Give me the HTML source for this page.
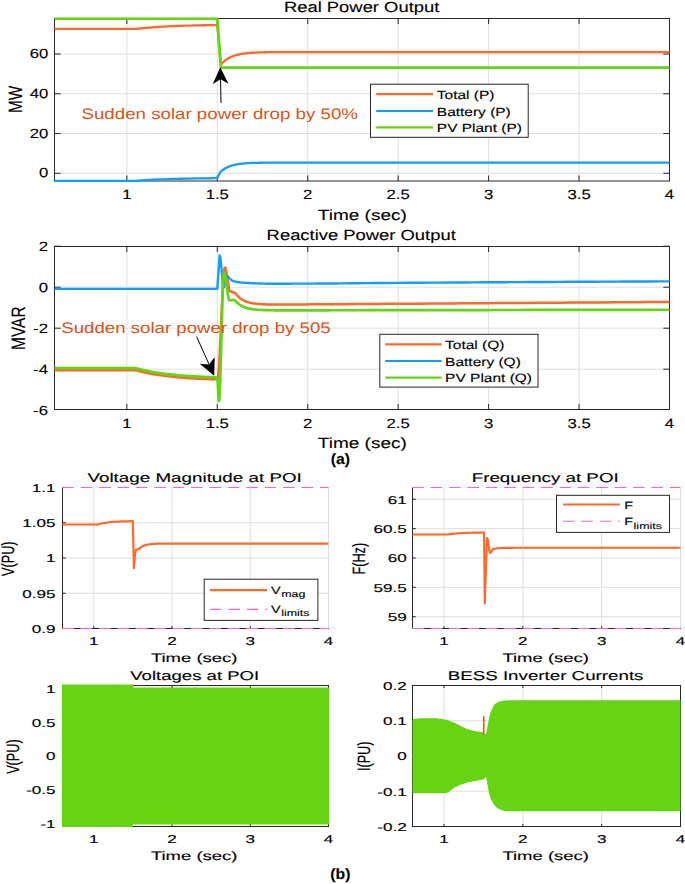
<!DOCTYPE html>
<html><head><meta charset="utf-8"><title>Power plots</title>
<style>html,body{margin:0;padding:0;background:#fff}svg{display:block}</style></head>
<body><svg width="685" height="884" viewBox="0 0 685 884" font-family="'Liberation Sans', sans-serif" text-rendering="geometricPrecision"><defs>
<clipPath id="c1"><rect x="54.0" y="17.3" width="616.0" height="164.9"/></clipPath>
<clipPath id="c2"><rect x="54.0" y="245.3" width="616.0" height="165.4"/></clipPath>
</defs>
<rect x="54.5" y="18.5" width="615.0" height="162.5" fill="#fff"/>
<path d="M126.85 18.5V181.0M217.29 18.5V181.0M307.74 18.5V181.0M398.18 18.5V181.0M488.62 18.5V181.0M579.06 18.5V181.0M54.5 173.30H669.5M54.5 133.54H669.5M54.5 93.78H669.5M54.5 54.02H669.5" stroke="#dfdfdf" stroke-width="1" fill="none"/>
<path d="M126.85 181.0v-5.5M126.85 18.5v5.5M217.29 181.0v-5.5M217.29 18.5v5.5M307.74 181.0v-5.5M307.74 18.5v5.5M398.18 181.0v-5.5M398.18 18.5v5.5M488.62 181.0v-5.5M488.62 18.5v5.5M579.06 181.0v-5.5M579.06 18.5v5.5M669.50 181.0v-5.5M669.50 18.5v5.5M54.5 173.30h6.2M669.5 173.30h-6.2M54.5 133.54h6.2M669.5 133.54h-6.2M54.5 93.78h6.2M669.5 93.78h-6.2M54.5 54.02h6.2M669.5 54.02h-6.2" stroke="#262626" stroke-width="1" fill="none"/>
<rect x="54.5" y="18.5" width="615.0" height="162.5" fill="none" stroke="#262626" stroke-width="1"/>
<polyline points="54.50,28.97 59.02,28.97 63.54,28.97 68.07,28.97 72.59,28.97 77.11,28.97 81.63,28.97 86.15,28.97 90.68,28.97 95.20,28.97 99.72,28.97 104.24,28.97 108.76,28.97 113.29,28.97 117.81,28.97 122.33,28.97 126.85,28.97 131.38,28.97 135.90,28.97 140.42,28.46 144.94,28.00 149.46,27.60 153.99,27.25 158.51,26.94 163.03,26.66 167.55,26.42 172.07,26.21 176.60,26.02 181.12,25.85 185.64,25.70 190.16,25.57 194.68,25.46 199.21,25.36 203.73,25.27 208.25,25.19 210.06,25.16 211.87,25.13 213.68,25.11 215.49,25.08 215.58,25.08 215.67,25.08 215.76,25.08 215.85,25.08 215.94,25.08 216.03,25.07 216.12,25.07 216.21,25.07 216.30,25.07 216.39,25.07 216.48,25.07 216.57,25.07 216.66,25.07 216.75,25.07 216.84,25.06 216.93,25.06 217.02,25.06 217.11,25.06 217.20,25.06 217.29,25.06 217.38,26.05 217.47,27.03 217.57,28.02 217.66,29.01 217.75,30.00 217.84,30.98 217.93,31.97 218.02,32.96 218.11,33.95 218.20,34.93 218.29,35.92 218.38,36.91 218.47,37.90 218.56,38.88 218.65,39.87 218.74,40.86 218.83,41.85 218.92,42.83 219.01,43.82 219.10,44.81 219.19,45.79 219.28,46.78 219.37,47.77 219.46,48.76 219.56,49.74 219.65,50.73 219.74,51.72 219.83,52.71 219.92,53.69 220.01,54.68 220.10,55.67 220.19,56.66 220.28,57.64 220.37,58.63 220.46,59.62 220.55,60.61 220.64,61.59 220.73,62.58 220.82,63.57 220.91,64.56 221.00,64.45 221.09,64.35 221.18,64.25 221.27,64.15 221.36,64.05 221.45,63.95 221.54,63.85 221.64,63.75 221.73,63.65 221.82,63.56 221.91,63.46 222.00,63.36 222.09,63.27 222.18,63.18 222.27,63.08 222.36,62.99 222.45,62.90 222.54,62.81 222.63,62.72 222.72,62.63 222.81,62.55 222.90,62.46 222.99,62.37 223.08,62.29 223.17,62.20 223.26,62.12 223.35,62.03 223.44,61.95 223.53,61.87 223.62,61.79 223.72,61.71 223.81,61.62 223.90,61.55 223.99,61.47 224.08,61.39 224.17,61.31 224.26,61.23 224.35,61.16 224.44,61.08 224.53,61.01 224.62,60.93 224.71,60.86 224.80,60.78 224.89,60.71 224.98,60.64 225.07,60.57 225.16,60.50 225.25,60.43 225.34,60.36 225.43,60.29 225.52,60.22 225.61,60.15 225.71,60.08 225.80,60.02 225.89,59.95 225.98,59.89 226.07,59.82 226.16,59.76 226.25,59.69 226.34,59.63 226.43,59.57 226.52,59.50 226.61,59.44 226.70,59.38 226.79,59.32 226.88,59.26 226.97,59.20 227.06,59.14 227.15,59.08 227.24,59.02 227.33,58.96 227.42,58.91 227.51,58.85 227.60,58.79 227.69,58.74 227.79,58.68 227.88,58.63 227.97,58.57 228.06,58.52 228.15,58.46 228.24,58.41 228.33,58.36 228.42,58.30 228.51,58.25 228.60,58.20 228.69,58.15 228.78,58.10 228.87,58.05 228.96,58.00 229.05,57.95 229.14,57.90 229.23,57.85 229.32,57.80 229.41,57.75 229.50,57.71 229.59,57.66 229.68,57.61 229.77,57.57 229.87,57.52 229.96,57.48 230.05,57.43 230.14,57.39 230.23,57.34 230.32,57.30 230.41,57.25 230.50,57.21 230.59,57.17 230.68,57.12 230.77,57.08 230.86,57.04 230.95,57.00 231.04,56.96 231.13,56.92 231.22,56.88 231.31,56.84 231.40,56.80 231.49,56.76 231.58,56.72 231.67,56.68 231.76,56.64 231.86,56.60 231.95,56.56 232.04,56.53 232.13,56.49 232.22,56.45 232.31,56.41 232.40,56.38 232.49,56.34 232.58,56.31 232.67,56.27 232.76,56.24 232.85,56.20 232.94,56.17 233.03,56.13 233.12,56.10 233.21,56.06 233.30,56.03 233.39,56.00 233.48,55.96 233.57,55.93 233.66,55.90 233.75,55.87 233.84,55.84 233.94,55.80 234.03,55.77 234.12,55.74 234.21,55.71 234.30,55.68 234.39,55.65 234.48,55.62 234.57,55.59 234.66,55.56 234.75,55.53 234.84,55.50 234.93,55.47 235.02,55.45 235.11,55.42 235.20,55.39 235.29,55.36 235.38,55.33 235.47,55.31 235.56,55.28 235.65,55.25 235.74,55.23 235.83,55.20 235.93,55.17 236.02,55.15 236.11,55.12 236.20,55.09 236.29,55.07 236.38,55.04 236.47,55.02 236.56,54.99 236.65,54.97 236.74,54.95 236.83,54.92 236.92,54.90 237.01,54.87 237.10,54.85 237.19,54.83 237.28,54.80 237.37,54.78 237.46,54.76 237.55,54.73 237.64,54.71 237.73,54.69 237.82,54.67 237.91,54.65 238.01,54.62 238.10,54.60 238.19,54.58 238.28,54.56 238.37,54.54 238.46,54.52 238.55,54.50 238.64,54.48 238.73,54.46 238.82,54.44 238.91,54.42 239.00,54.40 239.09,54.38 239.18,54.36 239.27,54.34 239.36,54.32 239.45,54.30 239.54,54.28 239.63,54.26 239.72,54.24 239.81,54.23 239.90,54.21 239.99,54.19 240.09,54.17 240.18,54.15 240.27,54.14 240.36,54.12 240.45,54.10 240.54,54.09 240.63,54.07 240.72,54.05 240.81,54.03 240.90,54.02 240.99,54.00 241.08,53.98 241.17,53.97 241.26,53.95 241.35,53.94 241.44,53.92 241.53,53.91 241.62,53.89 241.71,53.87 241.80,53.86 241.89,53.84 241.98,53.83 242.07,53.81 242.17,53.80 242.26,53.78 242.35,53.77 242.44,53.76 242.53,53.74 242.62,53.73 242.71,53.71 242.80,53.70 242.89,53.69 242.98,53.67 243.07,53.66 243.16,53.64 243.25,53.63 243.34,53.62 243.43,53.60 243.52,53.59 243.61,53.58 243.70,53.57 243.79,53.55 243.88,53.54 243.97,53.53 244.06,53.52 244.16,53.50 244.25,53.49 244.34,53.48 244.43,53.47 244.52,53.45 244.61,53.44 244.70,53.43 244.79,53.42 244.88,53.41 244.97,53.40 245.06,53.39 245.15,53.37 245.24,53.36 245.33,53.35 245.42,53.34 245.51,53.33 245.60,53.32 245.69,53.31 245.78,53.30 245.87,53.29 245.96,53.28 246.05,53.27 246.14,53.26 246.24,53.25 247.32,53.13 248.41,53.03 249.49,52.93 250.58,52.85 251.66,52.77 252.75,52.70 253.83,52.64 254.92,52.58 256.00,52.53 257.09,52.48 258.17,52.44 259.26,52.40 260.34,52.36 261.43,52.33 262.51,52.30 263.60,52.28 264.69,52.25 265.77,52.23 266.86,52.21 267.94,52.20 269.03,52.18 270.11,52.17 271.20,52.15 272.28,52.14 273.37,52.13 274.45,52.12 275.54,52.11 276.62,52.11 277.71,52.10 278.79,52.09 279.88,52.09 280.96,52.08 282.05,52.08 283.14,52.07 284.22,52.07 285.31,52.07 286.39,52.06 287.48,52.06 288.56,52.06 289.65,52.05 290.73,52.05 291.82,52.05 292.90,52.05 293.99,52.05 295.07,52.05 296.16,52.04 297.24,52.04 298.33,52.04 299.41,52.04 300.50,52.04 301.59,52.04 302.67,52.04 303.76,52.04 304.84,52.04 305.93,52.04 307.01,52.04 308.10,52.04 309.18,52.04 310.27,52.04 311.35,52.04 312.44,52.03 313.52,52.03 314.61,52.03 315.69,52.03 316.78,52.03 317.86,52.03 318.95,52.03 320.04,52.03 321.12,52.03 322.21,52.03 323.29,52.03 324.38,52.03 325.46,52.03 326.55,52.03 327.63,52.03 328.72,52.03 329.80,52.03 330.89,52.03 331.97,52.03 333.06,52.03 334.14,52.03 335.23,52.03 336.31,52.03 337.40,52.03 338.49,52.03 339.57,52.03 340.66,52.03 341.74,52.03 342.83,52.03 343.91,52.03 354.76,52.03 365.62,52.03 376.47,52.03 387.32,52.03 398.18,52.03 409.03,52.03 419.88,52.03 430.74,52.03 441.59,52.03 452.44,52.03 463.29,52.03 474.15,52.03 485.00,52.03 495.85,52.03 506.71,52.03 517.56,52.03 528.41,52.03 539.26,52.03 550.12,52.03 560.97,52.03 571.82,52.03 582.68,52.03 593.53,52.03 604.38,52.03 615.24,52.03 626.09,52.03 636.94,52.03 647.79,52.03 658.65,52.03 669.50,52.03" fill="none" stroke="#ff6929" stroke-width="2.3" stroke-linejoin="round" clip-path="url(#c1)"/>
<polyline points="54.50,180.85 59.02,180.85 63.54,180.85 68.07,180.85 72.59,180.85 77.11,180.85 81.63,180.85 86.15,180.85 90.68,180.85 95.20,180.85 99.72,180.85 104.24,180.85 108.76,180.85 113.29,180.85 117.81,180.85 122.33,180.85 126.85,180.85 131.38,180.85 135.90,180.85 140.42,180.50 144.94,180.19 149.46,179.92 153.99,179.68 158.51,179.47 163.03,179.28 167.55,179.12 172.07,178.97 176.60,178.84 181.12,178.73 185.64,178.63 190.16,178.54 194.68,178.46 199.21,178.39 203.73,178.33 208.25,178.28 210.06,178.26 211.87,178.24 213.68,178.22 215.49,178.20 215.58,178.20 215.67,178.20 215.76,178.20 215.85,178.20 215.94,178.20 216.03,178.20 216.12,178.20 216.21,178.20 216.30,178.20 216.39,178.19 216.48,178.19 216.57,178.19 216.66,178.19 216.75,178.19 216.84,178.19 216.93,178.19 217.02,178.19 217.11,178.19 217.20,178.19 217.29,178.19 217.38,177.99 217.47,177.79 217.57,177.59 217.66,177.39 217.75,177.19 217.84,176.99 217.93,176.79 218.02,176.59 218.11,176.39 218.20,176.19 218.29,175.99 218.38,175.79 218.47,175.59 218.56,175.40 218.65,175.20 218.74,175.00 218.83,174.80 218.92,174.60 219.01,174.40 219.10,174.20 219.19,174.00 219.28,173.80 219.37,173.60 219.46,173.40 219.56,173.20 219.65,173.00 219.74,172.80 219.83,172.60 219.92,172.51 220.01,172.42 220.10,172.33 220.19,172.25 220.28,172.16 220.37,172.07 220.46,171.99 220.55,171.90 220.64,171.82 220.73,171.73 220.82,171.65 220.91,171.57 221.00,171.49 221.09,171.40 221.18,171.32 221.27,171.25 221.36,171.17 221.45,171.09 221.54,171.01 221.64,170.94 221.73,170.86 221.82,170.78 221.91,170.71 222.00,170.64 222.09,170.56 222.18,170.49 222.27,170.42 222.36,170.35 222.45,170.28 222.54,170.21 222.63,170.14 222.72,170.07 222.81,170.00 222.90,169.93 222.99,169.87 223.08,169.80 223.17,169.74 223.26,169.67 223.35,169.61 223.44,169.54 223.53,169.48 223.62,169.42 223.72,169.36 223.81,169.29 223.90,169.23 223.99,169.17 224.08,169.11 224.17,169.05 224.26,169.00 224.35,168.94 224.44,168.88 224.53,168.82 224.62,168.77 224.71,168.71 224.80,168.65 224.89,168.60 224.98,168.54 225.07,168.49 225.16,168.44 225.25,168.38 225.34,168.33 225.43,168.28 225.52,168.23 225.61,168.18 225.71,168.12 225.80,168.07 225.89,168.02 225.98,167.98 226.07,167.93 226.16,167.88 226.25,167.83 226.34,167.78 226.43,167.73 226.52,167.69 226.61,167.64 226.70,167.60 226.79,167.55 226.88,167.51 226.97,167.46 227.06,167.42 227.15,167.37 227.24,167.33 227.33,167.29 227.42,167.24 227.51,167.20 227.60,167.16 227.69,167.12 227.79,167.08 227.88,167.03 227.97,166.99 228.06,166.95 228.15,166.91 228.24,166.88 228.33,166.84 228.42,166.80 228.51,166.76 228.60,166.72 228.69,166.68 228.78,166.65 228.87,166.61 228.96,166.57 229.05,166.54 229.14,166.50 229.23,166.47 229.32,166.43 229.41,166.39 229.50,166.36 229.59,166.33 229.68,166.29 229.77,166.26 229.87,166.22 229.96,166.19 230.05,166.16 230.14,166.13 230.23,166.09 230.32,166.06 230.41,166.03 230.50,166.00 230.59,165.97 230.68,165.94 230.77,165.91 230.86,165.88 230.95,165.85 231.04,165.82 231.13,165.79 231.22,165.76 231.31,165.73 231.40,165.70 231.49,165.67 231.58,165.64 231.67,165.62 231.76,165.59 231.86,165.56 231.95,165.53 232.04,165.51 232.13,165.48 232.22,165.45 232.31,165.43 232.40,165.40 232.49,165.38 232.58,165.35 232.67,165.33 232.76,165.30 232.85,165.28 232.94,165.25 233.03,165.23 233.12,165.20 233.21,165.18 233.30,165.16 233.39,165.13 233.48,165.11 233.57,165.09 233.66,165.06 233.75,165.04 233.84,165.02 233.94,165.00 234.03,164.97 234.12,164.95 234.21,164.93 234.30,164.91 234.39,164.89 234.48,164.87 234.57,164.85 234.66,164.83 234.75,164.80 234.84,164.78 234.93,164.76 235.02,164.74 235.11,164.72 235.20,164.71 235.29,164.69 235.38,164.67 235.47,164.65 235.56,164.63 235.65,164.61 235.74,164.59 235.83,164.57 235.93,164.56 236.02,164.54 236.11,164.52 236.20,164.50 236.29,164.48 236.38,164.47 236.47,164.45 236.56,164.43 236.65,164.42 236.74,164.40 236.83,164.38 236.92,164.37 237.01,164.35 237.10,164.33 237.19,164.32 237.28,164.30 237.37,164.29 237.46,164.27 237.55,164.25 237.64,164.24 237.73,164.22 237.82,164.21 237.91,164.19 238.01,164.18 238.10,164.17 238.19,164.15 238.28,164.14 238.37,164.12 238.46,164.11 238.55,164.09 238.64,164.08 238.73,164.07 238.82,164.05 238.91,164.04 239.00,164.03 239.09,164.01 239.18,164.00 239.27,163.99 239.36,163.97 239.45,163.96 239.54,163.95 239.63,163.94 239.72,163.92 239.81,163.91 239.90,163.90 239.99,163.89 240.09,163.87 240.18,163.86 240.27,163.85 240.36,163.84 240.45,163.83 240.54,163.82 240.63,163.81 240.72,163.79 240.81,163.78 240.90,163.77 240.99,163.76 241.08,163.75 241.17,163.74 241.26,163.73 241.35,163.72 241.44,163.71 241.53,163.70 241.62,163.69 241.71,163.68 241.80,163.67 241.89,163.66 241.98,163.65 242.07,163.64 242.17,163.63 242.26,163.62 242.35,163.61 242.44,163.60 242.53,163.59 242.62,163.58 242.71,163.57 242.80,163.56 242.89,163.55 242.98,163.54 243.07,163.54 243.16,163.53 243.25,163.52 243.34,163.51 243.43,163.50 243.52,163.49 243.61,163.48 243.70,163.48 243.79,163.47 243.88,163.46 243.97,163.45 244.06,163.44 244.16,163.44 244.25,163.43 244.34,163.42 244.43,163.41 244.52,163.40 244.61,163.40 244.70,163.39 244.79,163.38 244.88,163.37 244.97,163.37 245.06,163.36 245.15,163.35 245.24,163.35 245.33,163.34 245.42,163.33 245.51,163.32 245.60,163.32 245.69,163.31 245.78,163.30 245.87,163.30 245.96,163.29 246.05,163.28 246.14,163.28 246.24,163.27 247.32,163.20 248.41,163.13 249.49,163.07 250.58,163.02 251.66,162.97 252.75,162.93 253.83,162.89 254.92,162.86 256.00,162.83 257.09,162.80 258.17,162.78 259.26,162.76 260.34,162.74 261.43,162.72 262.51,162.70 263.60,162.69 264.69,162.68 265.77,162.66 266.86,162.65 267.94,162.64 269.03,162.64 270.11,162.63 271.20,162.62 272.28,162.62 273.37,162.61 274.45,162.61 275.54,162.60 276.62,162.60 277.71,162.59 278.79,162.59 279.88,162.59 280.96,162.59 282.05,162.58 283.14,162.58 284.22,162.58 285.31,162.58 286.39,162.58 287.48,162.58 288.56,162.57 289.65,162.57 290.73,162.57 291.82,162.57 292.90,162.57 293.99,162.57 295.07,162.57 296.16,162.57 297.24,162.57 298.33,162.57 299.41,162.57 300.50,162.57 301.59,162.57 302.67,162.57 303.76,162.57 304.84,162.57 305.93,162.57 307.01,162.57 308.10,162.57 309.18,162.57 310.27,162.57 311.35,162.57 312.44,162.57 313.52,162.57 314.61,162.57 315.69,162.57 316.78,162.57 317.86,162.57 318.95,162.57 320.04,162.57 321.12,162.57 322.21,162.57 323.29,162.57 324.38,162.57 325.46,162.57 326.55,162.57 327.63,162.56 328.72,162.56 329.80,162.56 330.89,162.56 331.97,162.56 333.06,162.56 334.14,162.56 335.23,162.56 336.31,162.56 337.40,162.56 338.49,162.56 339.57,162.56 340.66,162.56 341.74,162.56 342.83,162.56 343.91,162.56 354.76,162.56 365.62,162.56 376.47,162.56 387.32,162.56 398.18,162.56 409.03,162.56 419.88,162.56 430.74,162.56 441.59,162.56 452.44,162.56 463.29,162.56 474.15,162.56 485.00,162.56 495.85,162.56 506.71,162.56 517.56,162.56 528.41,162.56 539.26,162.56 550.12,162.56 560.97,162.56 571.82,162.56 582.68,162.56 593.53,162.56 604.38,162.56 615.24,162.56 626.09,162.56 636.94,162.56 647.79,162.56 658.65,162.56 669.50,162.56" fill="none" stroke="#129eff" stroke-width="2.3" stroke-linejoin="round" clip-path="url(#c1)"/>
<polyline points="54.50,18.63 59.02,18.63 63.54,18.63 68.07,18.63 72.59,18.63 77.11,18.63 81.63,18.63 86.15,18.63 90.68,18.63 95.20,18.63 99.72,18.63 104.24,18.63 108.76,18.63 113.29,18.63 117.81,18.63 122.33,18.63 126.85,18.63 131.38,18.63 135.90,18.63 140.42,18.63 144.94,18.63 149.46,18.63 153.99,18.63 158.51,18.63 163.03,18.63 167.55,18.63 172.07,18.63 176.60,18.63 181.12,18.63 185.64,18.63 190.16,18.63 194.68,18.63 199.21,18.63 203.73,18.63 208.25,18.63 210.06,18.63 211.87,18.63 213.68,18.63 215.49,18.63 215.58,18.63 215.67,18.63 215.76,18.63 215.85,18.63 215.94,18.63 216.03,18.63 216.12,18.63 216.21,18.63 216.30,18.63 216.39,18.63 216.48,18.63 216.57,18.63 216.66,18.63 216.75,18.63 216.84,18.63 216.93,18.63 217.02,18.63 217.11,18.63 217.20,18.63 217.29,18.63 217.38,19.86 217.47,21.08 217.57,22.30 217.66,23.52 217.75,24.75 217.84,25.97 217.93,27.19 218.02,28.41 218.11,29.64 218.20,30.86 218.29,32.08 218.38,33.31 218.47,34.53 218.56,35.75 218.65,36.97 218.74,38.20 218.83,39.42 218.92,40.64 219.01,41.86 219.10,43.09 219.19,44.31 219.28,45.53 219.37,46.75 219.46,47.98 219.56,49.20 219.65,50.42 219.74,51.64 219.83,52.87 219.92,54.09 220.01,55.31 220.10,56.53 220.19,57.76 220.28,58.98 220.37,60.20 220.46,61.43 220.55,62.65 220.64,63.87 220.73,65.09 220.82,66.32 220.91,67.54 221.00,67.54 221.09,67.54 221.18,67.54 221.27,67.54 221.36,67.54 221.45,67.54 221.54,67.54 221.64,67.54 221.73,67.54 221.82,67.54 221.91,67.54 222.00,67.54 222.09,67.54 222.18,67.54 222.27,67.54 222.36,67.54 222.45,67.54 222.54,67.54 222.63,67.54 222.72,67.54 222.81,67.54 222.90,67.54 222.99,67.54 223.08,67.54 223.17,67.54 223.26,67.54 223.35,67.54 223.44,67.54 223.53,67.54 223.62,67.54 223.72,67.54 223.81,67.54 223.90,67.54 223.99,67.54 224.08,67.54 224.17,67.54 224.26,67.54 224.35,67.54 224.44,67.54 224.53,67.54 224.62,67.54 224.71,67.54 224.80,67.54 224.89,67.54 224.98,67.54 225.07,67.54 225.16,67.54 225.25,67.54 225.34,67.54 225.43,67.54 225.52,67.54 225.61,67.54 225.71,67.54 225.80,67.54 225.89,67.54 225.98,67.54 226.07,67.54 226.16,67.54 226.25,67.54 226.34,67.54 226.43,67.54 226.52,67.54 226.61,67.54 226.70,67.54 226.79,67.54 226.88,67.54 226.97,67.54 227.06,67.54 227.15,67.54 227.24,67.54 227.33,67.54 227.42,67.54 227.51,67.54 227.60,67.54 227.69,67.54 227.79,67.54 227.88,67.54 227.97,67.54 228.06,67.54 228.15,67.54 228.24,67.54 228.33,67.54 228.42,67.54 228.51,67.54 228.60,67.54 228.69,67.54 228.78,67.54 228.87,67.54 228.96,67.54 229.05,67.54 229.14,67.54 229.23,67.54 229.32,67.54 229.41,67.54 229.50,67.54 229.59,67.54 229.68,67.54 229.77,67.54 229.87,67.54 229.96,67.54 230.05,67.54 230.14,67.54 230.23,67.54 230.32,67.54 230.41,67.54 230.50,67.54 230.59,67.54 230.68,67.54 230.77,67.54 230.86,67.54 230.95,67.54 231.04,67.54 231.13,67.54 231.22,67.54 231.31,67.54 231.40,67.54 231.49,67.54 231.58,67.54 231.67,67.54 231.76,67.54 231.86,67.54 231.95,67.54 232.04,67.54 232.13,67.54 232.22,67.54 232.31,67.54 232.40,67.54 232.49,67.54 232.58,67.54 232.67,67.54 232.76,67.54 232.85,67.54 232.94,67.54 233.03,67.54 233.12,67.54 233.21,67.54 233.30,67.54 233.39,67.54 233.48,67.54 233.57,67.54 233.66,67.54 233.75,67.54 233.84,67.54 233.94,67.54 234.03,67.54 234.12,67.54 234.21,67.54 234.30,67.54 234.39,67.54 234.48,67.54 234.57,67.54 234.66,67.54 234.75,67.54 234.84,67.54 234.93,67.54 235.02,67.54 235.11,67.54 235.20,67.54 235.29,67.54 235.38,67.54 235.47,67.54 235.56,67.54 235.65,67.54 235.74,67.54 235.83,67.54 235.93,67.54 236.02,67.54 236.11,67.54 236.20,67.54 236.29,67.54 236.38,67.54 236.47,67.54 236.56,67.54 236.65,67.54 236.74,67.54 236.83,67.54 236.92,67.54 237.01,67.54 237.10,67.54 237.19,67.54 237.28,67.54 237.37,67.54 237.46,67.54 237.55,67.54 237.64,67.54 237.73,67.54 237.82,67.54 237.91,67.54 238.01,67.54 238.10,67.54 238.19,67.54 238.28,67.54 238.37,67.54 238.46,67.54 238.55,67.54 238.64,67.54 238.73,67.54 238.82,67.54 238.91,67.54 239.00,67.54 239.09,67.54 239.18,67.54 239.27,67.54 239.36,67.54 239.45,67.54 239.54,67.54 239.63,67.54 239.72,67.54 239.81,67.54 239.90,67.54 239.99,67.54 240.09,67.54 240.18,67.54 240.27,67.54 240.36,67.54 240.45,67.54 240.54,67.54 240.63,67.54 240.72,67.54 240.81,67.54 240.90,67.54 240.99,67.54 241.08,67.54 241.17,67.54 241.26,67.54 241.35,67.54 241.44,67.54 241.53,67.54 241.62,67.54 241.71,67.54 241.80,67.54 241.89,67.54 241.98,67.54 242.07,67.54 242.17,67.54 242.26,67.54 242.35,67.54 242.44,67.54 242.53,67.54 242.62,67.54 242.71,67.54 242.80,67.54 242.89,67.54 242.98,67.54 243.07,67.54 243.16,67.54 243.25,67.54 243.34,67.54 243.43,67.54 243.52,67.54 243.61,67.54 243.70,67.54 243.79,67.54 243.88,67.54 243.97,67.54 244.06,67.54 244.16,67.54 244.25,67.54 244.34,67.54 244.43,67.54 244.52,67.54 244.61,67.54 244.70,67.54 244.79,67.54 244.88,67.54 244.97,67.54 245.06,67.54 245.15,67.54 245.24,67.54 245.33,67.54 245.42,67.54 245.51,67.54 245.60,67.54 245.69,67.54 245.78,67.54 245.87,67.54 245.96,67.54 246.05,67.54 246.14,67.54 246.24,67.54 247.32,67.54 248.41,67.54 249.49,67.54 250.58,67.54 251.66,67.54 252.75,67.54 253.83,67.54 254.92,67.54 256.00,67.54 257.09,67.54 258.17,67.54 259.26,67.54 260.34,67.54 261.43,67.54 262.51,67.54 263.60,67.54 264.69,67.54 265.77,67.54 266.86,67.54 267.94,67.54 269.03,67.54 270.11,67.54 271.20,67.54 272.28,67.54 273.37,67.54 274.45,67.54 275.54,67.54 276.62,67.54 277.71,67.54 278.79,67.54 279.88,67.54 280.96,67.54 282.05,67.54 283.14,67.54 284.22,67.54 285.31,67.54 286.39,67.54 287.48,67.54 288.56,67.54 289.65,67.54 290.73,67.54 291.82,67.54 292.90,67.54 293.99,67.54 295.07,67.54 296.16,67.54 297.24,67.54 298.33,67.54 299.41,67.54 300.50,67.54 301.59,67.54 302.67,67.54 303.76,67.54 304.84,67.54 305.93,67.54 307.01,67.54 308.10,67.54 309.18,67.54 310.27,67.54 311.35,67.54 312.44,67.54 313.52,67.54 314.61,67.54 315.69,67.54 316.78,67.54 317.86,67.54 318.95,67.54 320.04,67.54 321.12,67.54 322.21,67.54 323.29,67.54 324.38,67.54 325.46,67.54 326.55,67.54 327.63,67.54 328.72,67.54 329.80,67.54 330.89,67.54 331.97,67.54 333.06,67.54 334.14,67.54 335.23,67.54 336.31,67.54 337.40,67.54 338.49,67.54 339.57,67.54 340.66,67.54 341.74,67.54 342.83,67.54 343.91,67.54 354.76,67.54 365.62,67.54 376.47,67.54 387.32,67.54 398.18,67.54 409.03,67.54 419.88,67.54 430.74,67.54 441.59,67.54 452.44,67.54 463.29,67.54 474.15,67.54 485.00,67.54 495.85,67.54 506.71,67.54 517.56,67.54 528.41,67.54 539.26,67.54 550.12,67.54 560.97,67.54 571.82,67.54 582.68,67.54 593.53,67.54 604.38,67.54 615.24,67.54 626.09,67.54 636.94,67.54 647.79,67.54 658.65,67.54 669.50,67.54" fill="none" stroke="#64d413" stroke-width="2.8" stroke-linejoin="round" clip-path="url(#c1)"/>
<rect x="54.5" y="246.5" width="615.0" height="163.0" fill="#fff"/>
<path d="M126.85 246.5V409.5M217.29 246.5V409.5M307.74 246.5V409.5M398.18 246.5V409.5M488.62 246.5V409.5M579.06 246.5V409.5M54.5 369.20H669.5M54.5 328.20H669.5M54.5 287.20H669.5" stroke="#dfdfdf" stroke-width="1" fill="none"/>
<path d="M126.85 409.5v-5.5M126.85 246.5v5.5M217.29 409.5v-5.5M217.29 246.5v5.5M307.74 409.5v-5.5M307.74 246.5v5.5M398.18 409.5v-5.5M398.18 246.5v5.5M488.62 409.5v-5.5M488.62 246.5v5.5M579.06 409.5v-5.5M579.06 246.5v5.5M669.50 409.5v-5.5M669.50 246.5v5.5M54.5 369.20h6.2M669.5 369.20h-6.2M54.5 328.20h6.2M669.5 328.20h-6.2M54.5 287.20h6.2M669.5 287.20h-6.2M54.5 246.20h6.2M669.5 246.20h-6.2" stroke="#262626" stroke-width="1" fill="none"/>
<rect x="54.5" y="246.5" width="615.0" height="163.0" fill="none" stroke="#262626" stroke-width="1"/>
<polyline points="54.50,370.22 59.02,370.22 63.54,370.22 68.07,370.22 72.59,370.22 77.11,370.22 81.63,370.22 86.15,370.22 90.68,370.22 95.20,370.22 99.72,370.22 104.24,370.22 108.76,370.22 113.29,370.22 117.81,370.22 122.33,370.22 126.85,370.22 131.38,370.22 135.90,370.22 140.42,371.43 144.94,372.49 149.46,373.43 153.99,374.26 158.51,374.99 163.03,375.63 167.55,376.20 172.07,376.70 176.60,377.15 181.12,377.54 185.64,377.88 190.16,378.19 194.68,378.46 199.21,378.69 203.73,378.90 208.25,379.09 210.06,379.16 211.87,379.22 213.68,379.28 215.49,379.34 215.58,379.34 215.67,379.34 215.76,379.35 215.85,379.35 215.94,379.35 216.03,379.36 216.12,379.36 216.21,379.36 216.30,379.36 216.39,379.37 216.48,379.37 216.57,379.37 216.66,379.38 216.75,379.38 216.84,379.38 216.93,379.38 217.02,379.39 217.11,379.39 217.20,379.39 217.29,379.45 217.38,379.41 217.47,379.29 217.57,379.10 217.66,378.82 217.75,378.47 217.84,378.05 217.93,377.54 218.02,376.96 218.11,376.31 218.20,375.58 218.29,374.78 218.38,373.91 218.47,372.96 218.56,371.95 218.65,370.87 218.74,369.73 218.83,368.51 218.92,367.24 219.01,365.90 219.10,364.51 219.19,363.06 219.28,361.55 219.37,359.99 219.46,358.38 219.56,356.72 219.65,355.01 219.74,353.26 219.83,351.47 219.92,349.64 220.01,347.77 220.10,345.86 220.19,343.93 220.28,341.97 220.37,339.98 220.46,337.97 220.55,335.94 220.64,333.89 220.73,331.83 220.82,329.75 220.91,327.67 221.00,325.58 221.09,323.49 221.18,321.39 221.27,319.30 221.36,317.22 221.45,315.14 221.54,313.08 221.64,311.03 221.73,309.00 221.82,306.99 221.91,305.00 222.00,303.04 222.09,301.11 222.18,299.20 222.27,297.33 222.36,295.50 222.45,293.71 222.54,291.96 222.63,290.25 222.72,288.59 222.81,286.98 222.90,285.42 222.99,283.91 223.08,282.46 223.17,281.07 223.26,279.73 223.35,278.46 223.44,277.24 223.53,276.10 223.62,275.02 223.72,274.01 223.81,273.06 223.90,272.19 223.99,271.39 224.08,270.66 224.17,270.01 224.26,269.43 224.35,268.92 224.44,268.50 224.53,268.15 224.62,267.87 224.71,267.68 224.80,267.56 224.89,267.52 224.98,267.54 225.07,267.59 225.16,267.67 225.25,267.78 225.34,267.93 225.43,268.11 225.52,268.32 225.61,268.56 225.71,268.83 225.80,269.13 225.89,269.45 225.98,269.81 226.07,270.19 226.16,270.60 226.25,271.03 226.34,271.49 226.43,271.97 226.52,272.46 226.61,272.98 226.70,273.52 226.79,274.07 226.88,274.63 226.97,275.21 227.06,275.81 227.15,276.41 227.24,277.02 227.33,277.64 227.42,278.26 227.51,278.88 227.60,279.51 227.69,280.14 227.79,280.77 227.88,281.39 227.97,282.01 228.06,282.62 228.15,283.22 228.24,283.81 228.33,284.39 228.42,284.96 228.51,285.51 228.60,286.04 228.69,286.56 228.78,287.06 228.87,287.54 228.96,287.99 229.05,288.42 229.14,288.83 229.23,289.21 229.32,289.57 229.41,289.90 229.50,290.20 229.59,290.47 229.68,290.71 229.77,290.92 229.87,291.10 229.96,291.24 230.05,291.36 230.14,291.44 230.23,291.49 230.32,291.50 230.41,291.51 230.50,291.51 230.59,291.52 230.68,291.52 230.77,291.54 230.86,291.55 230.95,291.56 231.04,291.58 231.13,291.60 231.22,291.62 231.31,291.65 231.40,291.67 231.49,291.70 231.58,291.73 231.67,291.76 231.76,291.79 231.86,291.82 231.95,291.86 232.04,291.89 232.13,291.93 232.22,291.97 232.31,292.00 232.40,292.04 232.49,292.08 232.58,292.12 232.67,292.16 232.76,292.20 232.85,292.24 232.94,292.27 233.03,292.31 233.12,292.35 233.21,292.38 233.30,292.42 233.39,292.45 233.48,292.48 233.57,292.51 233.66,292.54 233.75,292.57 233.84,292.59 233.94,292.62 234.03,292.64 234.12,292.66 234.21,292.68 234.30,292.69 234.39,292.70 234.48,292.72 234.57,292.72 234.66,292.73 234.75,292.73 234.84,292.74 234.93,292.76 235.02,292.84 235.11,292.94 235.20,293.04 235.29,293.12 235.38,293.14 235.47,293.27 235.56,293.40 235.65,293.52 235.74,293.64 235.83,293.77 235.93,293.89 236.02,294.00 236.11,294.12 236.20,294.24 236.29,294.35 236.38,294.47 236.47,294.58 236.56,294.69 236.65,294.80 236.74,294.91 236.83,295.01 236.92,295.12 237.01,295.23 237.10,295.33 237.19,295.43 237.28,295.53 237.37,295.63 237.46,295.73 237.55,295.83 237.64,295.93 237.73,296.03 237.82,296.12 237.91,296.21 238.01,296.31 238.10,296.40 238.19,296.49 238.28,296.58 238.37,296.67 238.46,296.76 238.55,296.84 238.64,296.93 238.73,297.01 238.82,297.10 238.91,297.18 239.00,297.26 239.09,297.35 239.18,297.43 239.27,297.51 239.36,297.58 239.45,297.66 239.54,297.74 239.63,297.82 239.72,297.89 239.81,297.96 239.90,298.04 239.99,298.11 240.09,298.18 240.18,298.25 240.27,298.32 240.36,298.39 240.45,298.46 240.54,298.53 240.63,298.60 240.72,298.67 240.81,298.73 240.90,298.80 240.99,298.86 241.08,298.92 241.17,298.99 241.26,299.05 241.35,299.11 241.44,299.17 241.53,299.23 241.62,299.29 241.71,299.35 241.80,299.41 241.89,299.47 241.98,299.52 242.07,299.58 242.17,299.64 242.26,299.69 242.35,299.75 242.44,299.80 242.53,299.85 242.62,299.91 242.71,299.96 242.80,300.01 242.89,300.06 242.98,300.11 243.07,300.16 243.16,300.21 243.25,300.26 243.34,300.31 243.43,300.35 243.52,300.40 243.61,300.45 243.70,300.49 243.79,300.54 243.88,300.59 243.97,300.63 244.06,300.67 244.16,300.72 244.25,300.76 244.34,300.80 244.43,300.85 244.52,300.89 244.61,300.93 244.70,300.97 244.79,301.01 244.88,301.05 244.97,301.09 245.06,301.13 245.15,301.17 245.24,301.21 245.33,301.24 245.42,301.28 245.51,301.32 245.60,301.35 245.69,301.39 245.78,301.43 245.87,301.46 245.96,301.50 246.05,301.53 246.14,301.57 246.24,301.60 247.32,301.98 248.41,302.31 249.49,302.60 250.58,302.85 251.66,303.07 252.75,303.27 253.83,303.44 254.92,303.58 256.00,303.71 257.09,303.83 258.17,303.93 259.26,304.01 260.34,304.09 261.43,304.16 262.51,304.22 263.60,304.27 264.69,304.31 265.77,304.35 266.86,304.38 267.94,304.41 269.03,304.44 270.11,304.46 271.20,304.48 272.28,304.50 273.37,304.50 274.45,304.51 275.54,304.52 276.62,304.52 277.71,304.52 278.79,304.52 279.88,304.52 280.96,304.52 282.05,304.52 283.14,304.51 284.22,304.51 285.31,304.51 286.39,304.50 287.48,304.50 288.56,304.49 289.65,304.49 290.73,304.48 291.82,304.48 292.90,304.47 293.99,304.47 295.07,304.46 296.16,304.45 297.24,304.45 298.33,304.44 299.41,304.43 300.50,304.43 301.59,304.42 302.67,304.41 303.76,304.41 304.84,304.40 305.93,304.39 307.01,304.39 308.10,304.38 309.18,304.37 310.27,304.36 311.35,304.36 312.44,304.35 313.52,304.34 314.61,304.34 315.69,304.33 316.78,304.32 317.86,304.31 318.95,304.31 320.04,304.30 321.12,304.29 322.21,304.29 323.29,304.28 324.38,304.27 325.46,304.26 326.55,304.26 327.63,304.25 328.72,304.24 329.80,304.23 330.89,304.23 331.97,304.22 333.06,304.21 334.14,304.21 335.23,304.20 336.31,304.19 337.40,304.18 338.49,304.18 339.57,304.17 340.66,304.16 341.74,304.15 342.83,304.15 343.91,304.14 354.76,304.07 365.62,304.00 376.47,303.92 387.32,303.85 398.18,303.78 409.03,303.70 419.88,303.63 430.74,303.56 441.59,303.49 452.44,303.41 463.29,303.34 474.15,303.27 485.00,303.20 495.85,303.12 506.71,303.05 517.56,302.98 528.41,302.90 539.26,302.83 550.12,302.76 560.97,302.69 571.82,302.61 582.68,302.54 593.53,302.47 604.38,302.40 615.24,302.32 626.09,302.25 636.94,302.18 647.79,302.11 658.65,302.03 669.50,301.96" fill="none" stroke="#ff6929" stroke-width="2.5" stroke-linejoin="round" clip-path="url(#c2)"/>
<polyline points="54.50,288.84 59.02,288.84 63.54,288.84 68.07,288.84 72.59,288.84 77.11,288.84 81.63,288.84 86.15,288.84 90.68,288.84 95.20,288.84 99.72,288.84 104.24,288.84 108.76,288.84 113.29,288.84 117.81,288.84 122.33,288.84 126.85,288.84 131.38,288.84 135.90,288.84 140.42,288.84 144.94,288.84 149.46,288.84 153.99,288.84 158.51,288.84 163.03,288.84 167.55,288.84 172.07,288.84 176.60,288.84 181.12,288.84 185.64,288.84 190.16,288.84 194.68,288.84 199.21,288.84 203.73,288.84 208.25,288.84 210.06,288.84 211.87,288.84 213.68,288.84 215.49,288.84 215.58,288.84 215.67,288.84 215.76,288.84 215.85,288.84 215.94,288.84 216.03,288.84 216.12,288.84 216.21,288.84 216.30,288.84 216.39,288.84 216.48,288.84 216.57,288.84 216.66,288.84 216.75,288.84 216.84,288.84 216.93,288.84 217.02,288.84 217.11,288.84 217.20,288.84 217.29,288.84 217.38,287.55 217.47,286.27 217.57,284.98 217.66,283.70 217.75,282.41 217.84,281.13 217.93,279.84 218.02,278.56 218.11,277.27 218.20,275.99 218.29,274.70 218.38,273.42 218.47,272.13 218.56,270.85 218.65,269.56 218.74,268.28 218.83,266.99 218.92,265.71 219.01,264.42 219.10,263.14 219.19,261.85 219.28,260.57 219.37,259.28 219.46,258.00 219.56,256.71 219.65,255.42 219.74,255.47 219.83,255.60 219.92,255.81 220.01,256.10 220.10,256.47 220.19,256.91 220.28,257.41 220.37,257.97 220.46,258.60 220.55,259.28 220.64,260.01 220.73,260.78 220.82,261.60 220.91,262.46 221.00,263.36 221.09,264.28 221.18,265.24 221.27,266.21 221.36,267.21 221.45,268.22 221.54,269.25 221.64,270.28 221.73,271.31 221.82,272.35 221.91,273.38 222.00,274.40 222.09,275.42 222.18,276.41 222.27,277.39 222.36,278.34 222.45,279.27 222.54,280.16 222.63,281.02 222.72,281.84 222.81,282.62 222.90,283.35 222.99,284.03 223.08,284.65 223.17,285.22 223.26,285.72 223.35,286.16 223.44,286.52 223.53,286.81 223.62,287.03 223.72,287.16 223.81,287.20 223.90,287.17 223.99,287.07 224.08,286.92 224.17,286.71 224.26,286.45 224.35,286.14 224.44,285.79 224.53,285.41 224.62,284.99 224.71,284.54 224.80,284.06 224.89,283.57 224.98,283.06 225.07,282.53 225.16,282.00 225.25,281.46 225.34,280.92 225.43,280.39 225.52,279.86 225.61,279.35 225.71,278.86 225.80,278.38 225.89,277.93 225.98,277.51 226.07,277.13 226.16,276.78 226.25,276.47 226.34,276.21 226.43,276.00 226.52,275.85 226.61,275.75 226.70,275.72 226.79,275.73 226.88,275.75 226.97,275.79 227.06,275.84 227.15,275.90 227.24,275.97 227.33,276.06 227.42,276.15 227.51,276.24 227.60,276.34 227.69,276.45 227.79,276.55 227.88,276.66 227.97,276.77 228.06,276.88 228.15,276.99 228.24,277.09 228.33,277.19 228.42,277.28 228.51,277.36 228.60,277.44 228.69,277.52 228.78,277.60 228.87,277.69 228.96,277.77 229.05,277.86 229.14,277.95 229.23,278.03 229.32,278.12 229.41,278.21 229.50,278.30 229.59,278.39 229.68,278.48 229.77,278.57 229.87,278.66 229.96,278.75 230.05,278.84 230.14,278.93 230.23,279.02 230.32,279.10 230.41,279.19 230.50,279.28 230.59,279.36 230.68,279.45 230.77,279.53 230.86,279.62 230.95,279.70 231.04,279.78 231.13,279.86 231.22,279.93 231.31,280.01 231.40,280.08 231.49,280.15 231.58,280.22 231.67,280.29 231.76,280.35 231.86,280.41 231.95,280.47 232.04,280.53 232.13,280.58 232.22,280.64 232.31,280.68 232.40,280.73 232.49,280.77 232.58,280.81 232.67,280.84 232.76,280.88 232.85,280.91 232.94,280.94 233.03,280.98 233.12,281.01 233.21,281.04 233.30,281.07 233.39,281.10 233.48,281.13 233.57,281.16 233.66,281.19 233.75,281.22 233.84,281.24 233.94,281.27 234.03,281.30 234.12,281.33 234.21,281.35 234.30,281.38 234.39,281.40 234.48,281.43 234.57,281.45 234.66,281.48 234.75,281.50 234.84,281.53 234.93,281.55 235.02,281.57 235.11,281.59 235.20,281.62 235.29,281.64 235.38,281.66 235.47,281.68 235.56,281.70 235.65,281.72 235.74,281.74 235.83,281.76 235.93,281.78 236.02,281.80 236.11,281.82 236.20,281.84 236.29,281.86 236.38,281.88 236.47,281.89 236.56,281.91 236.65,281.93 236.74,281.94 236.83,281.96 236.92,281.98 237.01,281.99 237.10,282.01 237.19,282.02 237.28,282.04 237.37,282.05 237.46,282.07 237.55,282.08 237.64,282.10 237.73,282.11 237.82,282.12 237.91,282.14 238.01,282.15 238.10,282.16 238.19,282.18 238.28,282.19 238.37,282.20 238.46,282.21 238.55,282.22 238.64,282.24 238.73,282.25 238.82,282.26 238.91,282.27 239.00,282.28 239.09,282.29 239.18,282.30 239.27,282.31 239.36,282.32 239.45,282.33 239.54,282.34 239.63,282.35 239.72,282.36 239.81,282.37 239.90,282.38 239.99,282.39 240.09,282.40 240.18,282.41 240.27,282.42 240.36,282.43 240.45,282.44 240.54,282.45 240.63,282.46 240.72,282.47 240.81,282.47 240.90,282.48 240.99,282.49 241.08,282.50 241.17,282.51 241.26,282.52 241.35,282.53 241.44,282.53 241.53,282.54 241.62,282.55 241.71,282.56 241.80,282.57 241.89,282.58 241.98,282.58 242.07,282.59 242.17,282.60 242.26,282.61 242.35,282.61 242.44,282.62 242.53,282.63 242.62,282.64 242.71,282.64 242.80,282.65 242.89,282.66 242.98,282.67 243.07,282.67 243.16,282.68 243.25,282.69 243.34,282.69 243.43,282.70 243.52,282.71 243.61,282.71 243.70,282.72 243.79,282.73 243.88,282.73 243.97,282.74 244.06,282.75 244.16,282.75 244.25,282.76 244.34,282.76 244.43,282.77 244.52,282.78 244.61,282.78 244.70,282.79 244.79,282.79 244.88,282.80 244.97,282.81 245.06,282.81 245.15,282.82 245.24,282.82 245.33,282.83 245.42,282.83 245.51,282.84 245.60,282.85 245.69,282.85 245.78,282.86 245.87,282.86 245.96,282.87 246.05,282.87 246.14,282.88 246.24,282.88 247.32,282.94 248.41,283.00 249.49,283.05 250.58,283.10 251.66,283.16 252.75,283.21 253.83,283.26 254.92,283.31 256.00,283.36 257.09,283.41 258.17,283.45 259.26,283.49 260.34,283.53 261.43,283.57 262.51,283.60 263.60,283.63 264.69,283.66 265.77,283.68 266.86,283.70 267.94,283.71 269.03,283.71 270.11,283.71 271.20,283.71 272.28,283.71 273.37,283.71 274.45,283.71 275.54,283.71 276.62,283.71 277.71,283.71 278.79,283.71 279.88,283.70 280.96,283.70 282.05,283.70 283.14,283.70 284.22,283.69 285.31,283.69 286.39,283.69 287.48,283.69 288.56,283.68 289.65,283.68 290.73,283.68 291.82,283.67 292.90,283.67 293.99,283.66 295.07,283.66 296.16,283.66 297.24,283.65 298.33,283.65 299.41,283.64 300.50,283.64 301.59,283.64 302.67,283.63 303.76,283.63 304.84,283.62 305.93,283.62 307.01,283.62 308.10,283.61 309.18,283.61 310.27,283.60 311.35,283.60 312.44,283.59 313.52,283.59 314.61,283.58 315.69,283.58 316.78,283.57 317.86,283.56 318.95,283.56 320.04,283.55 321.12,283.55 322.21,283.54 323.29,283.53 324.38,283.52 325.46,283.52 326.55,283.51 327.63,283.50 328.72,283.49 329.80,283.49 330.89,283.48 331.97,283.47 333.06,283.46 334.14,283.45 335.23,283.45 336.31,283.44 337.40,283.43 338.49,283.42 339.57,283.41 340.66,283.40 341.74,283.39 342.83,283.38 343.91,283.37 354.76,283.28 365.62,283.17 376.47,283.07 387.32,282.98 398.18,282.89 409.03,282.82 419.88,282.74 430.74,282.67 441.59,282.59 452.44,282.52 463.29,282.45 474.15,282.38 485.00,282.31 495.85,282.24 506.71,282.18 517.56,282.12 528.41,282.05 539.26,281.99 550.12,281.93 560.97,281.88 571.82,281.82 582.68,281.76 593.53,281.71 604.38,281.65 615.24,281.60 626.09,281.55 636.94,281.50 647.79,281.45 658.65,281.40 669.50,281.36" fill="none" stroke="#129eff" stroke-width="2.4" stroke-linejoin="round" clip-path="url(#c2)"/>
<polyline points="54.50,368.18 59.02,368.18 63.54,368.18 68.07,368.18 72.59,368.18 77.11,368.18 81.63,368.18 86.15,368.18 90.68,368.18 95.20,368.18 99.72,368.18 104.24,368.18 108.76,368.18 113.29,368.18 117.81,368.18 122.33,368.18 126.85,368.18 131.38,368.18 135.90,368.18 140.42,369.38 144.94,370.44 149.46,371.38 153.99,372.21 158.51,372.94 163.03,373.58 167.55,374.15 172.07,374.65 176.60,375.10 181.12,375.49 185.64,375.83 190.16,376.14 194.68,376.41 199.21,376.64 203.73,376.85 208.25,377.04 210.06,377.11 211.87,377.17 213.68,377.23 215.49,377.29 215.58,377.29 215.67,377.29 215.76,377.30 215.85,377.30 215.94,377.30 216.03,377.31 216.12,377.31 216.21,377.31 216.30,377.31 216.39,377.32 216.48,377.32 216.57,377.32 216.66,377.33 216.75,377.33 216.84,377.33 216.93,377.33 217.02,377.34 217.11,377.34 217.20,377.34 217.29,378.43 217.38,378.60 217.47,379.10 217.57,379.94 217.66,381.06 217.75,382.45 217.84,384.06 217.93,385.84 218.02,387.74 218.11,389.70 218.20,391.66 218.29,393.56 218.38,395.34 218.47,396.95 218.56,398.34 218.65,399.46 218.74,400.30 218.83,400.80 218.92,400.97 219.01,400.87 219.10,400.57 219.19,400.07 219.28,399.36 219.37,398.46 219.46,397.37 219.56,396.08 219.65,394.61 219.74,392.96 219.83,391.12 219.92,389.12 220.01,386.95 220.10,384.63 220.19,382.15 220.28,379.53 220.37,376.78 220.46,373.90 220.55,370.90 220.64,367.79 220.73,364.59 220.82,361.30 220.91,357.93 221.00,354.50 221.09,351.01 221.18,347.47 221.27,343.90 221.36,340.31 221.45,336.71 221.54,333.10 221.64,329.51 221.73,325.94 221.82,322.41 221.91,318.92 222.00,315.48 222.09,312.11 222.18,308.82 222.27,305.62 222.36,302.52 222.45,299.52 222.54,296.64 222.63,293.88 222.72,291.26 222.81,288.79 222.90,286.46 222.99,284.29 223.08,282.29 223.17,280.46 223.26,278.80 223.35,277.33 223.44,276.05 223.53,274.95 223.62,274.05 223.72,273.35 223.81,272.84 223.90,272.54 223.99,272.44 224.08,272.46 224.17,272.51 224.26,272.60 224.35,272.73 224.44,272.89 224.53,273.08 224.62,273.31 224.71,273.57 224.80,273.86 224.89,274.19 224.98,274.55 225.07,274.94 225.16,275.36 225.25,275.80 225.34,276.28 225.43,276.78 225.52,277.30 225.61,277.85 225.71,278.42 225.80,279.01 225.89,279.61 225.98,280.24 226.07,280.88 226.16,281.54 226.25,282.21 226.34,282.89 226.43,283.57 226.52,284.27 226.61,284.97 226.70,285.67 226.79,286.38 226.88,287.09 226.97,287.79 227.06,288.49 227.15,289.19 227.24,289.87 227.33,290.55 227.42,291.22 227.51,291.88 227.60,292.52 227.69,293.15 227.79,293.75 227.88,294.34 227.97,294.91 228.06,295.46 228.15,295.98 228.24,296.48 228.33,296.96 228.42,297.40 228.51,297.82 228.60,298.21 228.69,298.57 228.78,298.90 228.87,299.19 228.96,299.45 229.05,299.68 229.14,299.87 229.23,300.03 229.32,300.16 229.41,300.25 229.50,300.30 229.59,300.32 229.68,300.32 229.77,300.32 229.87,300.32 229.96,300.31 230.05,300.31 230.14,300.31 230.23,300.30 230.32,300.29 230.41,300.29 230.50,300.28 230.59,300.27 230.68,300.26 230.77,300.26 230.86,300.25 230.95,300.24 231.04,300.22 231.13,300.21 231.22,300.20 231.31,300.19 231.40,300.18 231.49,300.17 231.58,300.15 231.67,300.14 231.76,300.13 231.86,300.12 231.95,300.10 232.04,300.09 232.13,300.08 232.22,300.06 232.31,300.05 232.40,300.04 232.49,300.03 232.58,300.02 232.67,300.01 232.76,299.99 232.85,299.98 232.94,299.97 233.03,299.97 233.12,299.96 233.21,299.95 233.30,299.94 233.39,299.94 233.48,299.93 233.57,299.92 233.66,299.92 233.75,299.92 233.84,299.91 233.94,299.91 234.03,299.91 234.12,299.91 234.21,299.92 234.30,299.95 234.39,300.00 234.48,300.06 234.57,300.14 234.66,300.23 234.75,300.32 234.84,300.41 234.93,300.50 235.02,300.58 235.11,300.64 235.20,300.69 235.29,300.72 235.38,300.73 235.47,300.84 235.56,300.94 235.65,301.05 235.74,301.15 235.83,301.25 235.93,301.35 236.02,301.45 236.11,301.55 236.20,301.65 236.29,301.74 236.38,301.84 236.47,301.93 236.56,302.03 236.65,302.12 236.74,302.21 236.83,302.30 236.92,302.39 237.01,302.48 237.10,302.56 237.19,302.65 237.28,302.74 237.37,302.82 237.46,302.90 237.55,302.99 237.64,303.07 237.73,303.15 237.82,303.23 237.91,303.31 238.01,303.38 238.10,303.46 238.19,303.54 238.28,303.61 238.37,303.69 238.46,303.76 238.55,303.83 238.64,303.91 238.73,303.98 238.82,304.05 238.91,304.12 239.00,304.19 239.09,304.26 239.18,304.32 239.27,304.39 239.36,304.46 239.45,304.52 239.54,304.59 239.63,304.65 239.72,304.71 239.81,304.78 239.90,304.84 239.99,304.90 240.09,304.96 240.18,305.02 240.27,305.08 240.36,305.14 240.45,305.19 240.54,305.25 240.63,305.31 240.72,305.36 240.81,305.42 240.90,305.47 240.99,305.53 241.08,305.58 241.17,305.63 241.26,305.69 241.35,305.74 241.44,305.79 241.53,305.84 241.62,305.89 241.71,305.94 241.80,305.99 241.89,306.04 241.98,306.08 242.07,306.13 242.17,306.18 242.26,306.22 242.35,306.27 242.44,306.31 242.53,306.36 242.62,306.40 242.71,306.45 242.80,306.49 242.89,306.53 242.98,306.58 243.07,306.62 243.16,306.66 243.25,306.70 243.34,306.74 243.43,306.78 243.52,306.82 243.61,306.86 243.70,306.90 243.79,306.94 243.88,306.97 243.97,307.01 244.06,307.05 244.16,307.09 244.25,307.12 244.34,307.16 244.43,307.19 244.52,307.23 244.61,307.26 244.70,307.30 244.79,307.33 244.88,307.36 244.97,307.40 245.06,307.43 245.15,307.46 245.24,307.50 245.33,307.53 245.42,307.56 245.51,307.59 245.60,307.62 245.69,307.65 245.78,307.68 245.87,307.71 245.96,307.74 246.05,307.77 246.14,307.80 246.24,307.83 247.32,308.14 248.41,308.42 249.49,308.66 250.58,308.88 251.66,309.06 252.75,309.22 253.83,309.37 254.92,309.49 256.00,309.60 257.09,309.70 258.17,309.78 259.26,309.85 260.34,309.92 261.43,309.97 262.51,310.02 263.60,310.06 264.69,310.10 265.77,310.13 266.86,310.16 267.94,310.19 269.03,310.21 270.11,310.23 271.20,310.25 272.28,310.26 273.37,310.27 274.45,310.28 275.54,310.29 276.62,310.30 277.71,310.30 278.79,310.31 279.88,310.31 280.96,310.31 282.05,310.32 283.14,310.32 284.22,310.32 285.31,310.32 286.39,310.32 287.48,310.32 288.56,310.32 289.65,310.32 290.73,310.32 291.82,310.32 292.90,310.32 293.99,310.32 295.07,310.32 296.16,310.32 297.24,310.32 298.33,310.32 299.41,310.32 300.50,310.32 301.59,310.32 302.67,310.31 303.76,310.31 304.84,310.31 305.93,310.31 307.01,310.31 308.10,310.31 309.18,310.31 310.27,310.30 311.35,310.30 312.44,310.30 313.52,310.30 314.61,310.30 315.69,310.30 316.78,310.29 317.86,310.29 318.95,310.29 320.04,310.29 321.12,310.29 322.21,310.29 323.29,310.28 324.38,310.28 325.46,310.28 326.55,310.28 327.63,310.28 328.72,310.28 329.80,310.27 330.89,310.27 331.97,310.27 333.06,310.27 334.14,310.27 335.23,310.27 336.31,310.26 337.40,310.26 338.49,310.26 339.57,310.26 340.66,310.26 341.74,310.26 342.83,310.25 343.91,310.25 354.76,310.24 365.62,310.22 376.47,310.20 387.32,310.19 398.18,310.17 409.03,310.15 419.88,310.14 430.74,310.12 441.59,310.10 452.44,310.09 463.29,310.07 474.15,310.05 485.00,310.04 495.85,310.02 506.71,310.00 517.56,309.98 528.41,309.97 539.26,309.95 550.12,309.93 560.97,309.92 571.82,309.90 582.68,309.88 593.53,309.87 604.38,309.85 615.24,309.83 626.09,309.82 636.94,309.80 647.79,309.78 658.65,309.77 669.50,309.75" fill="none" stroke="#64d413" stroke-width="2.7" stroke-linejoin="round" clip-path="url(#c2)"/>
<text transform="translate(48.40,58.20) scale(1.255,1)" font-size="13.33" text-anchor="end" fill="#000" stroke="#000" stroke-width="0.12" font-weight="normal" >60</text>
<text transform="translate(48.40,98.20) scale(1.255,1)" font-size="13.33" text-anchor="end" fill="#000" stroke="#000" stroke-width="0.12" font-weight="normal" >40</text>
<text transform="translate(48.40,137.80) scale(1.255,1)" font-size="13.33" text-anchor="end" fill="#000" stroke="#000" stroke-width="0.12" font-weight="normal" >20</text>
<text transform="translate(48.40,177.20) scale(1.255,1)" font-size="13.33" text-anchor="end" fill="#000" stroke="#000" stroke-width="0.12" font-weight="normal" >0</text>
<text transform="translate(48.00,250.60) scale(1.255,1)" font-size="13.33" text-anchor="end" fill="#000" stroke="#000" stroke-width="0.12" font-weight="normal" >2</text>
<text transform="translate(48.00,291.60) scale(1.255,1)" font-size="13.33" text-anchor="end" fill="#000" stroke="#000" stroke-width="0.12" font-weight="normal" >0</text>
<text transform="translate(48.00,332.60) scale(1.255,1)" font-size="13.33" text-anchor="end" fill="#000" stroke="#000" stroke-width="0.12" font-weight="normal" >-2</text>
<text transform="translate(48.00,373.60) scale(1.255,1)" font-size="13.33" text-anchor="end" fill="#000" stroke="#000" stroke-width="0.12" font-weight="normal" >-4</text>
<text transform="translate(48.00,414.60) scale(1.255,1)" font-size="13.33" text-anchor="end" fill="#000" stroke="#000" stroke-width="0.12" font-weight="normal" >-6</text>
<text transform="translate(126.85,199.00) scale(1.255,1)" font-size="13.33" text-anchor="middle" fill="#000" stroke="#000" stroke-width="0.12" font-weight="normal" >1</text>
<text transform="translate(126.85,427.60) scale(1.255,1)" font-size="13.33" text-anchor="middle" fill="#000" stroke="#000" stroke-width="0.12" font-weight="normal" >1</text>
<text transform="translate(217.29,199.00) scale(1.255,1)" font-size="13.33" text-anchor="middle" fill="#000" stroke="#000" stroke-width="0.12" font-weight="normal" >1.5</text>
<text transform="translate(217.29,427.60) scale(1.255,1)" font-size="13.33" text-anchor="middle" fill="#000" stroke="#000" stroke-width="0.12" font-weight="normal" >1.5</text>
<text transform="translate(307.74,199.00) scale(1.255,1)" font-size="13.33" text-anchor="middle" fill="#000" stroke="#000" stroke-width="0.12" font-weight="normal" >2</text>
<text transform="translate(307.74,427.60) scale(1.255,1)" font-size="13.33" text-anchor="middle" fill="#000" stroke="#000" stroke-width="0.12" font-weight="normal" >2</text>
<text transform="translate(398.18,199.00) scale(1.255,1)" font-size="13.33" text-anchor="middle" fill="#000" stroke="#000" stroke-width="0.12" font-weight="normal" >2.5</text>
<text transform="translate(398.18,427.60) scale(1.255,1)" font-size="13.33" text-anchor="middle" fill="#000" stroke="#000" stroke-width="0.12" font-weight="normal" >2.5</text>
<text transform="translate(488.62,199.00) scale(1.255,1)" font-size="13.33" text-anchor="middle" fill="#000" stroke="#000" stroke-width="0.12" font-weight="normal" >3</text>
<text transform="translate(488.62,427.60) scale(1.255,1)" font-size="13.33" text-anchor="middle" fill="#000" stroke="#000" stroke-width="0.12" font-weight="normal" >3</text>
<text transform="translate(579.06,199.00) scale(1.255,1)" font-size="13.33" text-anchor="middle" fill="#000" stroke="#000" stroke-width="0.12" font-weight="normal" >3.5</text>
<text transform="translate(579.06,427.60) scale(1.255,1)" font-size="13.33" text-anchor="middle" fill="#000" stroke="#000" stroke-width="0.12" font-weight="normal" >3.5</text>
<text transform="translate(669.50,199.00) scale(1.255,1)" font-size="13.33" text-anchor="middle" fill="#000" stroke="#000" stroke-width="0.12" font-weight="normal" >4</text>
<text transform="translate(669.50,427.60) scale(1.255,1)" font-size="13.33" text-anchor="middle" fill="#000" stroke="#000" stroke-width="0.12" font-weight="normal" >4</text>
<text transform="translate(362.30,219.80) scale(1.295,1)" font-size="14.67" text-anchor="middle" fill="#000" stroke="#000" stroke-width="0.12" font-weight="normal" >Time (sec)</text>
<text transform="translate(362.30,447.60) scale(1.295,1)" font-size="14.67" text-anchor="middle" fill="#000" stroke="#000" stroke-width="0.12" font-weight="normal" >Time (sec)</text>
<text transform="translate(361.60,11.70) scale(1.255,1)" font-size="14.67" text-anchor="middle" fill="#000" stroke="#000" stroke-width="0.12" font-weight="normal" >Real Power Output</text>
<text transform="translate(361.20,239.60) scale(1.255,1)" font-size="14.67" text-anchor="middle" fill="#000" stroke="#000" stroke-width="0.12" font-weight="normal" >Reactive Power Output</text>
<text transform="translate(340.30,464.30) scale(1.05,1)" font-size="15" text-anchor="middle" fill="#000" stroke="#000" stroke-width="0.12" font-weight="bold" >(a)</text>
<text transform="translate(21.70,99.40) scale(1.255,1) rotate(-90)" font-size="15.4" text-anchor="middle" fill="#000" stroke="#000" stroke-width="0.12">MW</text>
<text transform="translate(25.30,328.20) scale(1.255,1) rotate(-90)" font-size="15.5" text-anchor="middle" fill="#000" stroke="#000" stroke-width="0.12">MVAR</text>
<text transform="translate(81.50,118.60) scale(1.222,1)" font-size="15.3" text-anchor="start" fill="#d95319" stroke="#d95319" stroke-width="0" font-weight="normal" >Sudden solar power drop by 50%</text>
<text transform="translate(61.30,332.60) scale(1.218,1)" font-size="15.3" text-anchor="start" fill="#d95319" stroke="#d95319" stroke-width="0" font-weight="normal" >Sudden solar power drop by 505</text>
<path d="M221.00 103.00L220.54 79.30" stroke="#000" stroke-width="1" fill="none"/>
<path d="M220.30 67.30L228.42 83.64L220.54 79.30L212.82 83.95Z" fill="#000"/>
<path d="M196.60 336.60L209.08 364.40" stroke="#000" stroke-width="1" fill="none"/>
<path d="M214.20 375.80L199.76 363.65L209.08 364.40L214.72 356.93Z" fill="#000"/>
<rect x="370.5" y="84.2" width="157.70000000000005" height="53.10000000000001" fill="#fff" stroke="#262626" stroke-width="1"/>
<path d="M376.2 94.2H433.0" stroke="#ff6929" stroke-width="2.2"/>
<text transform="translate(436.80,98.90) scale(1.29,1)" font-size="12" text-anchor="start" fill="#000" stroke="#000" stroke-width="0.12" font-weight="normal" >Total (P)</text>
<path d="M376.2 111H433.0" stroke="#129eff" stroke-width="2.2"/>
<text transform="translate(436.80,115.70) scale(1.29,1)" font-size="12" text-anchor="start" fill="#000" stroke="#000" stroke-width="0.12" font-weight="normal" >Battery (P)</text>
<path d="M376.2 127.3H433.0" stroke="#64d413" stroke-width="2.2"/>
<text transform="translate(436.80,132.00) scale(1.29,1)" font-size="12" text-anchor="start" fill="#000" stroke="#000" stroke-width="0.12" font-weight="normal" >PV Plant (P)</text>
<rect x="379.8" y="334.3" width="158.2" height="52.80000000000001" fill="#fff" stroke="#262626" stroke-width="1"/>
<path d="M385.3 344.3H441.6" stroke="#ff6929" stroke-width="2.2"/>
<text transform="translate(445.10,349.00) scale(1.29,1)" font-size="12" text-anchor="start" fill="#000" stroke="#000" stroke-width="0.12" font-weight="normal" >Total (Q)</text>
<path d="M385.3 361H441.6" stroke="#129eff" stroke-width="2.2"/>
<text transform="translate(445.10,365.70) scale(1.29,1)" font-size="12" text-anchor="start" fill="#000" stroke="#000" stroke-width="0.12" font-weight="normal" >Battery (Q)</text>
<path d="M385.3 377.6H441.6" stroke="#64d413" stroke-width="2.2"/>
<text transform="translate(445.10,382.30) scale(1.29,1)" font-size="12" text-anchor="start" fill="#000" stroke="#000" stroke-width="0.12" font-weight="normal" >PV Plant (Q)</text>
<rect x="62.5" y="487.5" width="266.0" height="141.0" fill="#fff"/>
<path d="M93.79 487.5V628.5M172.03 487.5V628.5M250.26 487.5V628.5M62.5 593.25H328.5M62.5 558.00H328.5M62.5 522.75H328.5" stroke="#dfdfdf" stroke-width="1" fill="none"/>
<path d="M93.79 628.5v-2.5M172.03 628.5v-2.5M250.26 628.5v-2.5M328.50 628.5v-2.5M62.5 628.50h3.3M62.5 593.25h3.3M62.5 558.00h3.3M62.5 522.75h3.3M62.5 487.50h3.3" stroke="#262626" stroke-width="1" fill="none"/>
<path d="M328.5 487.5V628.5" stroke="#dfdfdf" stroke-width="1" fill="none"/>
<path d="M62.5 487.5V628.5H329.0" fill="none" stroke="#262626" stroke-width="1"/>
<polyline points="62.50,524.51 64.46,524.51 66.41,524.51 68.37,524.51 70.32,524.51 72.28,524.51 74.24,524.51 76.19,524.51 78.15,524.51 80.10,524.51 82.06,524.51 84.01,524.51 85.97,524.51 87.93,524.51 89.88,524.51 91.84,524.51 93.79,524.51 95.75,524.51 97.71,524.51 99.66,523.97 101.62,523.51 103.57,523.13 105.53,522.80 107.49,522.52 109.44,522.28 111.40,522.09 113.35,521.92 115.31,521.77 117.26,521.65 119.22,521.55 121.18,521.46 123.13,521.39 125.09,521.33 127.04,521.28 129.00,521.23 129.78,521.22 130.56,521.20 131.35,521.19 132.13,521.18 132.17,521.17 132.21,521.17 132.25,521.17 132.29,521.17 132.32,521.17 132.36,521.17 132.40,521.17 132.44,521.17 132.48,521.17 132.52,521.17 132.56,521.17 132.60,521.17 132.64,521.17 132.68,521.17 132.72,521.17 132.76,521.17 132.79,521.16 132.83,521.16 132.87,521.16 132.91,521.13 132.95,523.09 132.99,525.05 133.03,527.01 133.07,528.97 133.11,530.93 133.15,532.88 133.19,534.84 133.22,536.80 133.26,538.76 133.30,540.72 133.34,542.68 133.38,544.64 133.42,546.60 133.46,548.56 133.50,550.52 133.54,552.48 133.58,554.44 133.62,556.40 133.66,558.36 133.69,560.31 133.73,562.27 133.77,564.23 133.81,566.19 133.85,568.15 133.89,567.70 133.93,567.25 133.97,566.80 134.01,566.35 134.05,565.90 134.09,565.46 134.12,565.01 134.16,564.56 134.20,564.11 134.24,563.66 134.28,563.21 134.32,562.76 134.36,562.31 134.40,561.86 134.44,561.41 134.48,560.96 134.52,560.51 134.55,560.06 134.59,559.61 134.63,559.16 134.67,558.71 134.71,558.26 134.75,557.81 134.79,557.37 134.83,556.92 134.87,556.47 134.91,556.02 134.95,555.57 134.99,555.12 135.02,554.67 135.06,554.22 135.10,553.77 135.14,553.60 135.18,553.43 135.22,553.26 135.26,553.09 135.30,552.92 135.34,552.75 135.38,552.58 135.42,552.41 135.45,552.24 135.49,552.07 135.53,551.90 135.57,551.73 135.61,551.56 135.65,551.38 135.69,551.21 135.73,551.04 135.77,550.87 135.81,550.70 135.85,550.53 135.88,550.36 135.92,550.19 135.96,550.02 136.00,549.85 136.04,549.68 136.08,549.67 136.12,549.66 136.16,549.65 136.20,549.64 136.24,549.63 136.28,549.62 136.31,549.61 136.35,549.60 136.39,549.59 136.43,549.58 136.47,549.57 136.51,549.56 136.55,549.55 136.59,549.54 136.63,549.53 136.67,549.52 136.71,549.51 136.75,549.50 136.78,549.49 136.82,549.48 136.86,549.47 136.90,549.46 136.94,549.45 136.98,549.44 137.02,549.43 137.06,549.42 137.10,549.41 137.14,549.40 137.18,549.39 137.21,549.38 137.25,549.37 137.29,549.36 137.33,549.35 137.37,549.34 137.41,549.33 137.45,549.32 137.49,549.31 137.53,549.30 137.57,549.29 137.61,549.28 137.65,549.27 137.68,549.26 137.72,549.25 137.76,549.24 137.80,549.23 137.84,549.22 137.88,549.21 137.92,549.20 137.96,549.19 138.00,549.18 138.04,549.17 138.08,549.16 138.11,549.15 138.15,549.14 138.19,549.13 138.23,549.12 138.27,549.11 138.31,549.10 138.35,549.09 138.39,549.08 138.43,549.07 138.47,549.06 138.51,549.05 138.54,549.04 138.58,549.03 138.62,549.02 138.66,549.01 138.70,549.00 138.74,548.99 138.78,548.98 138.82,548.94 138.86,548.90 138.90,548.86 138.94,548.82 138.97,548.79 139.01,548.75 139.05,548.71 139.09,548.67 139.13,548.64 139.17,548.60 139.21,548.57 139.25,548.53 139.29,548.49 139.33,548.46 139.37,548.42 139.41,548.39 139.44,548.36 139.48,548.32 139.52,548.29 139.56,548.25 139.60,548.22 139.64,548.19 139.68,548.15 139.72,548.12 139.76,548.09 139.80,548.06 139.84,548.02 139.87,547.99 139.91,547.96 139.95,547.93 139.99,547.90 140.03,547.87 140.07,547.84 140.11,547.81 140.15,547.78 140.19,547.75 140.23,547.72 140.27,547.69 140.31,547.66 140.34,547.63 140.38,547.60 140.42,547.57 140.46,547.54 140.50,547.51 140.54,547.48 140.58,547.46 140.62,547.43 140.66,547.40 140.70,547.37 140.74,547.35 140.77,547.32 140.81,547.29 140.85,547.27 140.89,547.24 140.93,547.21 140.97,547.19 141.01,547.16 141.05,547.13 141.09,547.11 141.13,547.08 141.17,547.06 141.20,547.03 141.24,547.01 141.28,546.98 141.32,546.96 141.36,546.94 141.40,546.91 141.44,546.89 141.48,546.86 141.52,546.84 141.56,546.82 141.60,546.79 141.63,546.77 141.67,546.75 141.71,546.72 141.75,546.70 141.79,546.68 141.83,546.66 141.87,546.64 141.91,546.61 141.95,546.59 141.99,546.57 142.03,546.55 142.07,546.53 142.10,546.51 142.14,546.48 142.18,546.46 142.22,546.44 142.26,546.42 142.30,546.40 142.34,546.38 142.38,546.36 142.42,546.34 142.46,546.32 142.50,546.30 142.53,546.28 142.57,546.26 142.61,546.24 142.65,546.22 142.69,546.20 142.73,546.19 142.77,546.17 142.81,546.15 142.85,546.13 142.89,546.11 142.93,546.09 142.96,546.08 143.00,546.06 143.04,546.04 143.08,546.02 143.12,546.00 143.16,545.99 143.20,545.97 143.24,545.95 143.28,545.93 143.32,545.92 143.36,545.90 143.40,545.88 143.43,545.87 143.47,545.85 143.51,545.83 143.55,545.82 143.59,545.80 143.63,545.79 143.67,545.77 143.71,545.75 143.75,545.74 143.79,545.72 143.83,545.71 143.86,545.69 143.90,545.68 143.94,545.66 143.98,545.65 144.02,545.63 144.06,545.62 144.10,545.60 144.14,545.59 144.18,545.57 144.22,545.56 144.26,545.54 144.30,545.53 144.33,545.52 144.37,545.50 144.41,545.49 144.45,545.47 144.49,545.46 144.53,545.45 144.57,545.43 144.61,545.42 144.65,545.41 144.69,545.39 144.73,545.38 144.76,545.37 144.80,545.35 144.84,545.34 144.88,545.33 144.92,545.32 144.96,545.30 145.00,545.29 145.04,545.28 145.08,545.27 145.12,545.25 145.16,545.24 145.19,545.23 145.23,545.22 145.27,545.21 145.31,545.19 145.35,545.18 145.39,545.17 145.43,545.16 145.90,545.03 146.37,544.91 146.84,544.79 147.31,544.69 147.78,544.60 148.25,544.51 148.72,544.43 149.18,544.36 149.65,544.29 150.12,544.23 150.59,544.18 151.06,544.12 151.53,544.08 152.00,544.03 152.47,543.99 152.94,543.96 153.41,543.92 153.88,543.89 154.35,543.86 154.82,543.84 155.29,543.81 155.76,543.79 156.23,543.77 156.70,543.75 157.16,543.74 157.63,543.72 158.10,543.71 158.57,543.69 159.04,543.68 159.51,543.67 159.98,543.66 160.45,543.65 160.92,543.64 161.39,543.63 161.86,543.63 162.33,543.62 162.80,543.62 163.27,543.61 163.74,543.60 164.21,543.60 164.68,543.60 165.14,543.59 165.61,543.59 166.08,543.58 166.55,543.58 167.02,543.58 167.49,543.58 167.96,543.57 168.43,543.57 168.90,543.57 169.37,543.57 169.84,543.57 170.31,543.56 170.78,543.56 171.25,543.56 171.72,543.56 172.19,543.56 172.66,543.56 173.12,543.56 173.59,543.56 174.06,543.56 174.53,543.56 175.00,543.55 175.47,543.55 175.94,543.55 176.41,543.55 176.88,543.55 177.35,543.55 177.82,543.55 178.29,543.55 178.76,543.55 179.23,543.55 179.70,543.55 180.17,543.55 180.64,543.55 181.10,543.55 181.57,543.55 182.04,543.55 182.51,543.55 182.98,543.55 183.45,543.55 183.92,543.55 184.39,543.55 184.86,543.55 185.33,543.55 185.80,543.55 186.27,543.55 186.74,543.55 187.21,543.55 187.68,543.55 192.37,543.55 197.06,543.55 201.76,543.55 206.45,543.55 211.15,543.55 215.84,543.55 220.54,543.55 225.23,543.55 229.92,543.55 234.62,543.55 239.31,543.55 244.01,543.55 248.70,543.55 253.39,543.55 258.09,543.55 262.78,543.55 267.48,543.55 272.17,543.55 276.86,543.55 281.56,543.55 286.25,543.55 290.95,543.55 295.64,543.55 300.34,543.55 305.03,543.55 309.72,543.55 314.42,543.55 319.11,543.55 323.81,543.55 328.50,543.55" fill="none" stroke="#ff6929" stroke-width="2.2" stroke-linejoin="round"/>
<path d="M62.5 487.5H328.5M62.5 628.5H328.5" stroke="#ff62cd" stroke-width="1.1" stroke-dasharray="11.6 6.8" stroke-dashoffset="0.3"/>
<rect x="412.5" y="487.5" width="268.0" height="141.0" fill="#fff"/>
<path d="M444.03 487.5V628.5M522.85 487.5V628.5M601.68 487.5V628.5M412.5 616.75H680.5M412.5 587.37H680.5M412.5 558.00H680.5M412.5 528.63H680.5M412.5 499.25H680.5" stroke="#dfdfdf" stroke-width="1" fill="none"/>
<path d="M444.03 628.5v-2.5M522.85 628.5v-2.5M601.68 628.5v-2.5M680.50 628.5v-2.5M412.5 616.75h3.3M412.5 587.37h3.3M412.5 558.00h3.3M412.5 528.63h3.3M412.5 499.25h3.3" stroke="#262626" stroke-width="1" fill="none"/>
<path d="M680.5 487.5V628.5" stroke="#dfdfdf" stroke-width="1" fill="none"/>
<path d="M412.5 487.5V628.5H681.0" fill="none" stroke="#262626" stroke-width="1"/>
<polyline points="412.50,534.50 414.47,534.50 416.44,534.50 418.41,534.50 420.38,534.50 422.35,534.50 424.32,534.50 426.29,534.50 428.26,534.50 430.24,534.50 432.21,534.50 434.18,534.50 436.15,534.50 438.12,534.50 440.09,534.50 442.06,534.50 444.03,534.50 446.00,534.50 447.97,534.50 449.94,534.18 451.91,533.92 453.88,533.69 455.85,533.50 457.82,533.34 459.79,533.20 461.76,533.08 463.74,532.99 465.71,532.90 467.68,532.83 469.65,532.77 471.62,532.72 473.59,532.68 475.56,532.64 477.53,532.61 479.50,532.59 480.29,532.58 481.08,532.57 481.86,532.56 482.65,532.55 482.69,532.55 482.73,532.55 482.77,532.55 482.81,532.55 482.85,532.55 482.89,532.55 482.93,532.55 482.97,532.55 483.01,532.55 483.05,532.55 483.09,532.55 483.13,532.55 483.17,532.55 483.20,532.55 483.24,532.55 483.28,532.55 483.32,532.55 483.36,532.55 483.40,532.55 483.44,532.55 483.48,532.55 483.52,532.55 483.56,532.55 483.60,532.54 483.64,532.54 483.68,532.54 483.72,532.54 483.76,532.54 483.80,532.54 483.84,532.54 483.87,532.54 483.91,532.54 483.95,532.54 483.99,532.54 484.03,532.54 484.07,532.56 484.11,536.50 484.15,540.43 484.19,544.37 484.23,548.31 484.27,552.24 484.31,556.18 484.35,560.12 484.39,564.05 484.43,567.99 484.47,571.92 484.51,575.86 484.54,579.80 484.58,583.73 484.62,587.67 484.66,591.61 484.70,595.54 484.74,599.48 484.78,603.41 484.82,602.29 484.86,601.16 484.90,600.03 484.94,598.90 484.98,597.78 485.02,596.65 485.06,595.52 485.10,594.39 485.14,593.27 485.18,592.14 485.21,591.01 485.25,589.89 485.29,588.76 485.33,587.63 485.37,586.50 485.41,585.38 485.45,584.25 485.49,583.12 485.53,581.99 485.57,580.87 485.61,579.74 485.65,578.61 485.69,577.48 485.73,576.36 485.77,575.23 485.81,574.10 485.85,572.97 485.88,571.85 485.92,570.72 485.96,569.59 486.00,568.46 486.04,567.34 486.08,566.21 486.12,565.08 486.16,563.96 486.20,562.83 486.24,561.70 486.28,560.57 486.32,559.45 486.36,558.32 486.40,557.19 486.44,556.06 486.48,554.94 486.52,553.81 486.55,552.68 486.59,551.55 486.63,550.43 486.67,549.30 486.71,548.17 486.75,547.04 486.79,545.92 486.83,544.79 486.87,543.66 486.91,542.53 486.95,541.41 486.99,540.28 487.03,539.15 487.07,538.02 487.11,538.03 487.15,538.05 487.19,538.08 487.22,538.12 487.26,538.18 487.30,538.24 487.34,538.32 487.38,538.41 487.42,538.51 487.46,538.62 487.50,538.75 487.54,538.88 487.58,539.03 487.62,539.18 487.66,539.35 487.70,539.53 487.74,539.71 487.78,539.91 487.82,540.11 487.86,540.33 487.89,540.55 487.93,540.78 487.97,541.02 488.01,541.26 488.05,541.51 488.09,541.77 488.13,542.03 488.17,542.30 488.21,542.58 488.25,542.86 488.29,543.14 488.33,543.43 488.37,543.72 488.41,544.02 488.45,544.31 488.49,544.61 488.53,544.91 488.56,545.21 488.60,545.52 488.64,545.82 488.68,546.12 488.72,546.42 488.76,546.72 488.80,547.01 488.84,547.31 488.88,547.60 488.92,547.89 488.96,548.17 489.00,548.45 489.04,548.73 489.08,549.00 489.12,549.26 489.16,549.52 489.20,549.77 489.23,550.02 489.27,550.25 489.31,550.48 489.35,550.70 489.39,550.92 489.43,551.12 489.47,551.32 489.51,551.50 489.55,551.68 489.59,551.85 489.63,552.00 489.67,552.15 489.71,552.28 489.75,552.41 489.79,552.52 489.83,552.62 489.87,552.71 489.90,552.79 489.94,552.85 489.98,552.91 490.02,552.95 490.06,552.98 490.10,553.00 490.14,553.01 490.18,553.00 490.22,553.00 490.26,552.99 490.30,552.98 490.34,552.97 490.38,552.95 490.42,552.93 490.46,552.91 490.50,552.88 490.54,552.85 490.57,552.82 490.61,552.79 490.65,552.75 490.69,552.71 490.73,552.67 490.77,552.62 490.81,552.58 490.85,552.53 490.89,552.47 490.93,552.42 490.97,552.36 491.01,552.30 491.05,552.24 491.09,552.18 491.13,552.12 491.17,552.05 491.21,551.98 491.24,551.92 491.28,551.85 491.32,551.77 491.36,551.70 491.40,551.63 491.44,551.55 491.48,551.48 491.52,551.40 491.56,551.33 491.60,551.25 491.64,551.17 491.68,551.10 491.72,551.02 491.76,550.94 491.80,550.87 491.84,550.79 491.88,550.71 491.91,550.64 491.95,550.57 491.99,550.49 492.03,550.42 492.07,550.35 492.11,550.28 492.15,550.21 492.19,550.14 492.23,550.08 492.27,550.01 492.31,549.95 492.35,549.89 492.39,549.83 492.43,549.77 492.47,549.72 492.51,549.67 492.55,549.62 492.58,549.57 492.62,549.53 492.66,549.48 492.70,549.44 492.74,549.41 492.78,549.37 492.82,549.34 492.86,549.31 492.90,549.29 492.94,549.26 492.98,549.24 493.02,549.23 493.06,549.21 493.10,549.20 493.14,549.19 493.18,549.19 493.22,549.19 493.25,549.18 493.29,549.16 493.33,549.15 493.37,549.14 493.41,549.13 493.45,549.12 493.49,549.11 493.53,549.10 493.57,549.09 493.61,549.07 493.65,549.06 493.69,549.05 493.73,549.04 493.77,549.03 493.81,549.02 493.85,549.01 493.89,549.00 493.92,548.99 493.96,548.98 494.00,548.97 494.04,548.96 494.08,548.95 494.12,548.94 494.16,548.93 494.20,548.92 494.24,548.91 494.28,548.90 494.32,548.89 494.36,548.88 494.40,548.88 494.44,548.87 494.48,548.86 494.52,548.85 494.56,548.84 494.59,548.83 494.63,548.82 494.67,548.81 494.71,548.80 494.75,548.80 494.79,548.79 494.83,548.78 494.87,548.77 494.91,548.76 494.95,548.75 494.99,548.75 495.03,548.74 495.07,548.73 495.11,548.72 495.15,548.71 495.19,548.71 495.23,548.70 495.26,548.69 495.30,548.68 495.34,548.68 495.38,548.67 495.42,548.66 495.46,548.65 495.50,548.65 495.54,548.64 495.58,548.63 495.62,548.63 495.66,548.62 495.70,548.61 495.74,548.60 495.78,548.60 495.82,548.59 495.86,548.58 495.90,548.58 495.93,548.57 495.97,548.56 496.01,548.56 496.05,548.55 496.53,548.48 497.00,548.41 497.47,548.35 497.94,548.30 498.42,548.25 498.89,548.20 499.36,548.16 499.84,548.13 500.31,548.09 500.78,548.06 501.26,548.04 501.73,548.01 502.20,547.99 502.67,547.97 503.15,547.95 503.62,547.93 504.09,547.92 504.57,547.91 505.04,547.89 505.51,547.88 505.98,547.87 506.46,547.86 506.93,547.86 507.40,547.85 507.88,547.84 508.35,547.83 508.82,547.83 509.30,547.82 509.77,547.82 510.24,547.82 510.71,547.81 511.19,547.81 511.66,547.81 512.13,547.80 512.61,547.80 513.08,547.80 513.55,547.80 514.02,547.79 514.50,547.79 514.97,547.79 515.44,547.79 515.92,547.79 516.39,547.79 516.86,547.79 517.34,547.79 517.81,547.79 518.28,547.78 518.75,547.78 519.23,547.78 519.70,547.78 520.17,547.78 520.65,547.78 521.12,547.78 521.59,547.78 522.06,547.78 522.54,547.78 523.01,547.78 523.48,547.78 523.96,547.78 524.43,547.78 524.90,547.78 525.38,547.78 525.85,547.78 526.32,547.78 526.79,547.78 527.27,547.78 527.74,547.78 528.21,547.78 528.69,547.78 529.16,547.78 529.63,547.78 530.10,547.78 530.58,547.78 531.05,547.78 531.52,547.78 532.00,547.78 532.47,547.78 532.94,547.78 533.42,547.78 533.89,547.78 534.36,547.78 534.83,547.78 535.31,547.78 535.78,547.78 536.25,547.78 536.73,547.78 537.20,547.78 537.67,547.78 538.14,547.78 538.62,547.78 543.35,547.78 548.08,547.78 552.81,547.78 557.54,547.78 562.26,547.78 566.99,547.78 571.72,547.78 576.45,547.78 581.18,547.78 585.91,547.78 590.64,547.78 595.37,547.78 600.10,547.78 604.83,547.78 609.56,547.78 614.29,547.78 619.02,547.78 623.75,547.78 628.48,547.78 633.21,547.78 637.94,547.78 642.66,547.78 647.39,547.78 652.12,547.78 656.85,547.78 661.58,547.78 666.31,547.78 671.04,547.78 675.77,547.78 680.50,547.78" fill="none" stroke="#ff6929" stroke-width="2.15" stroke-linejoin="round"/>
<path d="M412.5 487.5H680.5M412.5 628.5H680.5" stroke="#ff62cd" stroke-width="1.1" stroke-dasharray="11.6 6.8" stroke-dashoffset="0.3"/>
<rect x="62.5" y="685.5" width="266.0" height="141.0" fill="#fff"/>
<path d="M93.79 685.5V826.5M172.03 685.5V826.5M250.26 685.5V826.5M62.5 823.14H328.5M62.5 789.57H328.5M62.5 756.00H328.5M62.5 722.43H328.5M62.5 688.86H328.5" stroke="#dfdfdf" stroke-width="1" fill="none"/>
<path d="M93.79 826.5v-2.5M93.79 685.5v2.5M172.03 826.5v-2.5M172.03 685.5v2.5M250.26 826.5v-2.5M250.26 685.5v2.5M328.50 826.5v-2.5M328.50 685.5v2.5M62.5 823.14h3.3M328.5 823.14h-3.3M62.5 789.57h3.3M328.5 789.57h-3.3M62.5 756.00h3.3M328.5 756.00h-3.3M62.5 722.43h3.3M328.5 722.43h-3.3M62.5 688.86h3.3M328.5 688.86h-3.3" stroke="#262626" stroke-width="1" fill="none"/>
<rect x="62.5" y="685.5" width="266.0" height="141.0" fill="none" stroke="#262626" stroke-width="1"/>
<path d="M61.9 684.6H132.91V687.6H329.4V824.6H132.91V827H61.9Z" fill="#64d413"/>
<path d="M132.91 684.8V688.5" stroke="#ff6929" stroke-width="0.8"/>
<rect x="412.5" y="685.5" width="268.0" height="141.0" fill="#fff"/>
<path d="M444.03 685.5V826.5M522.85 685.5V826.5M601.68 685.5V826.5M412.5 791.25H680.5M412.5 756.00H680.5M412.5 720.75H680.5" stroke="#dfdfdf" stroke-width="1" fill="none"/>
<path d="M444.03 826.5v-2.5M444.03 685.5v2.5M522.85 826.5v-2.5M522.85 685.5v2.5M601.68 826.5v-2.5M601.68 685.5v2.5M680.50 826.5v-2.5M680.50 685.5v2.5M412.5 826.50h3.3M680.5 826.50h-3.3M412.5 791.25h3.3M680.5 791.25h-3.3M412.5 756.00h3.3M680.5 756.00h-3.3M412.5 720.75h3.3M680.5 720.75h-3.3M412.5 685.50h3.3M680.5 685.50h-3.3" stroke="#262626" stroke-width="1" fill="none"/>
<rect x="412.5" y="685.5" width="268.0" height="141.0" fill="none" stroke="#262626" stroke-width="1"/>
<polygon points="412.50,719.13 414.47,718.87 416.44,718.66 418.41,718.49 420.38,718.37 422.35,718.28 424.32,718.21 426.29,718.17 428.26,718.15 430.24,718.14 432.21,718.14 434.18,718.17 436.15,718.29 438.12,718.48 440.09,718.73 442.06,719.03 444.03,719.34 446.00,719.76 447.97,720.33 449.94,721.03 451.91,721.81 453.88,722.61 455.85,723.41 457.82,724.32 459.79,725.35 461.76,726.42 463.74,727.46 465.71,728.39 467.68,729.14 469.65,729.71 471.62,730.23 473.59,730.70 475.56,731.13 477.53,731.51 479.50,731.86 480.29,731.99 481.08,732.11 481.86,732.19 482.65,732.27 482.69,732.28 482.73,732.28 482.77,732.29 482.81,732.29 482.85,732.30 482.89,732.30 482.93,732.31 482.97,732.31 483.01,732.32 483.05,732.33 483.09,732.33 483.13,732.34 483.17,732.35 483.20,732.35 483.24,732.36 483.28,732.37 483.32,732.37 483.36,732.38 483.40,732.39 483.44,732.40 483.48,732.40 483.52,732.41 483.56,732.42 483.60,732.43 483.64,732.44 483.68,732.45 483.72,732.46 483.76,732.47 483.80,732.48 483.84,732.49 483.87,732.50 483.91,732.52 483.95,732.54 483.99,732.56 484.03,732.59 484.07,732.62 484.11,732.65 484.15,732.69 484.19,732.73 484.23,732.77 484.27,732.81 484.31,732.86 484.35,732.90 484.39,732.95 484.43,733.00 484.47,733.05 484.51,733.11 484.54,733.16 484.58,733.21 484.62,733.27 484.66,733.32 484.70,733.37 484.74,733.43 484.78,733.48 484.82,733.53 484.86,733.59 484.90,733.64 484.94,733.69 484.98,733.73 485.02,733.78 485.06,733.82 485.10,733.87 485.14,733.91 485.18,733.95 485.21,733.98 485.25,734.01 485.29,734.04 485.33,734.07 485.37,734.09 485.41,734.11 485.45,734.12 485.49,734.14 485.53,734.14 485.57,734.14 485.61,734.14 485.65,734.12 485.69,734.10 485.73,734.06 485.77,734.01 485.81,733.96 485.85,733.89 485.88,733.82 485.92,733.74 485.96,733.64 486.00,733.54 486.04,733.44 486.08,733.32 486.12,733.20 486.16,733.06 486.20,732.93 486.24,732.78 486.28,732.63 486.32,732.47 486.36,732.31 486.40,732.14 486.44,731.96 486.48,731.78 486.52,731.60 486.55,731.40 486.59,731.21 486.63,731.01 486.67,730.81 486.71,730.60 486.75,730.39 486.79,730.17 486.83,729.95 486.87,729.73 486.91,729.51 486.95,729.29 486.99,729.06 487.03,728.83 487.07,728.60 487.11,728.37 487.15,728.13 487.19,727.90 487.22,727.66 487.26,727.43 487.30,727.19 487.34,726.96 487.38,726.72 487.42,726.49 487.46,726.26 487.50,726.03 487.54,725.80 487.58,725.57 487.62,725.34 487.66,725.12 487.70,724.89 487.74,724.68 487.78,724.46 487.82,724.25 487.86,724.04 487.89,723.83 487.93,723.63 487.97,723.43 488.01,723.24 488.05,723.05 488.09,722.86 488.13,722.69 488.17,722.51 488.21,722.34 488.25,722.17 488.29,721.99 488.33,721.82 488.37,721.64 488.41,721.46 488.45,721.28 488.49,721.10 488.53,720.92 488.56,720.74 488.60,720.56 488.64,720.37 488.68,720.19 488.72,720.00 488.76,719.82 488.80,719.63 488.84,719.45 488.88,719.26 488.92,719.08 488.96,718.89 489.00,718.70 489.04,718.52 489.08,718.33 489.12,718.15 489.16,717.96 489.20,717.78 489.23,717.60 489.27,717.41 489.31,717.23 489.35,717.05 489.39,716.87 489.43,716.69 489.47,716.52 489.51,716.34 489.55,716.16 489.59,715.99 489.63,715.82 489.67,715.65 489.71,715.48 489.75,715.31 489.79,715.15 489.83,714.99 489.87,714.83 489.90,714.67 489.94,714.51 489.98,714.36 490.02,714.21 490.06,714.06 490.10,713.91 490.14,713.77 490.18,713.63 490.22,713.49 490.26,713.35 490.30,713.22 490.34,713.09 490.38,712.97 490.42,712.85 490.46,712.73 490.50,712.61 490.54,712.50 490.57,712.39 490.61,712.29 490.65,712.19 490.69,712.09 490.73,711.99 490.77,711.89 490.81,711.79 490.85,711.69 490.89,711.59 490.93,711.49 490.97,711.39 491.01,711.29 491.05,711.19 491.09,711.10 491.13,711.00 491.17,710.90 491.21,710.81 491.24,710.71 491.28,710.62 491.32,710.52 491.36,710.43 491.40,710.33 491.44,710.24 491.48,710.15 491.52,710.06 491.56,709.96 491.60,709.87 491.64,709.78 491.68,709.69 491.72,709.60 491.76,709.51 491.80,709.42 491.84,709.33 491.88,709.25 491.91,709.16 491.95,709.07 491.99,708.98 492.03,708.90 492.07,708.81 492.11,708.73 492.15,708.64 492.19,708.56 492.23,708.48 492.27,708.39 492.31,708.31 492.35,708.23 492.39,708.15 492.43,708.07 492.47,707.99 492.51,707.91 492.55,707.83 492.58,707.75 492.62,707.67 492.66,707.59 492.70,707.51 492.74,707.44 492.78,707.36 492.82,707.29 492.86,707.21 492.90,707.14 492.94,707.06 492.98,706.99 493.02,706.92 493.06,706.84 493.10,706.77 493.14,706.70 493.18,706.63 493.22,706.56 493.25,706.49 493.29,706.42 493.33,706.36 493.37,706.29 493.41,706.22 493.45,706.15 493.49,706.09 493.53,706.02 493.57,705.96 493.61,705.90 493.65,705.83 493.69,705.77 493.73,705.71 493.77,705.65 493.81,705.58 493.85,705.52 493.89,705.46 493.92,705.41 493.96,705.35 494.00,705.29 494.04,705.23 494.08,705.18 494.12,705.12 494.16,705.07 494.20,705.01 494.24,704.96 494.28,704.90 494.32,704.85 494.36,704.80 494.40,704.75 494.44,704.70 494.48,704.65 494.52,704.60 494.56,704.55 494.59,704.50 494.63,704.46 494.67,704.41 494.71,704.36 494.75,704.32 494.79,704.27 494.83,704.23 494.87,704.19 494.91,704.14 494.95,704.10 494.99,704.06 495.03,704.02 495.07,703.98 495.11,703.94 495.15,703.91 495.19,703.87 495.23,703.83 495.26,703.80 495.30,703.76 495.34,703.73 495.38,703.69 495.42,703.66 495.46,703.63 495.50,703.60 495.54,703.57 495.58,703.54 495.62,703.51 495.66,703.48 495.70,703.45 495.74,703.42 495.78,703.39 495.82,703.37 495.86,703.34 495.90,703.31 495.93,703.29 495.97,703.26 496.01,703.23 496.05,703.21 496.53,702.90 497.00,702.63 497.47,702.37 497.94,702.14 498.42,701.93 498.89,701.75 499.36,701.58 499.84,701.43 500.31,701.30 500.78,701.19 501.26,701.08 501.73,700.98 502.20,700.89 502.67,700.80 503.15,700.72 503.62,700.65 504.09,700.59 504.57,700.54 505.04,700.51 505.51,700.48 505.98,700.46 506.46,700.45 506.93,700.43 507.40,700.42 507.88,700.41 508.35,700.39 508.82,700.38 509.30,700.37 509.77,700.36 510.24,700.35 510.71,700.34 511.19,700.33 511.66,700.33 512.13,700.32 512.61,700.32 513.08,700.31 513.55,700.31 514.02,700.31 514.50,700.31 514.97,700.31 515.44,700.31 515.92,700.31 516.39,700.31 516.86,700.31 517.34,700.31 517.81,700.31 518.28,700.31 518.75,700.31 519.23,700.31 519.70,700.31 520.17,700.31 520.65,700.31 521.12,700.31 521.59,700.31 522.06,700.31 522.54,700.31 523.01,700.31 523.48,700.31 523.96,700.31 524.43,700.31 524.90,700.31 525.38,700.31 525.85,700.31 526.32,700.31 526.79,700.31 527.27,700.31 527.74,700.31 528.21,700.31 528.69,700.31 529.16,700.31 529.63,700.31 530.10,700.31 530.58,700.31 531.05,700.31 531.52,700.31 532.00,700.31 532.47,700.31 532.94,700.31 533.42,700.31 533.89,700.31 534.36,700.31 534.83,700.31 535.31,700.31 535.78,700.31 536.25,700.31 536.73,700.31 537.20,700.31 537.67,700.31 538.14,700.31 538.62,700.31 543.35,700.31 548.08,700.31 552.81,700.31 557.54,700.31 562.26,700.31 566.99,700.31 571.72,700.31 576.45,700.31 581.18,700.31 585.91,700.31 590.64,700.31 595.37,700.31 600.10,700.31 604.83,700.31 609.56,700.31 614.29,700.31 619.02,700.31 623.75,700.31 628.48,700.31 633.21,700.31 637.94,700.31 642.66,700.31 647.39,700.31 652.12,700.31 656.85,700.31 661.58,700.31 666.31,700.31 671.04,700.31 675.77,700.31 680.50,700.31 680.50,811.34 675.77,811.34 671.04,811.34 666.31,811.34 661.58,811.34 656.85,811.34 652.12,811.34 647.39,811.34 642.66,811.34 637.94,811.34 633.21,811.34 628.48,811.34 623.75,811.34 619.02,811.34 614.29,811.34 609.56,811.34 604.83,811.34 600.10,811.34 595.37,811.34 590.64,811.34 585.91,811.34 581.18,811.34 576.45,811.34 571.72,811.34 566.99,811.34 562.26,811.34 557.54,811.34 552.81,811.34 548.08,811.34 543.35,811.34 538.62,811.34 538.14,811.34 537.67,811.34 537.20,811.34 536.73,811.34 536.25,811.34 535.78,811.34 535.31,811.34 534.83,811.34 534.36,811.34 533.89,811.34 533.42,811.34 532.94,811.34 532.47,811.34 532.00,811.34 531.52,811.34 531.05,811.34 530.58,811.34 530.10,811.34 529.63,811.34 529.16,811.34 528.69,811.34 528.21,811.34 527.74,811.34 527.27,811.34 526.79,811.34 526.32,811.34 525.85,811.34 525.38,811.34 524.90,811.34 524.43,811.34 523.96,811.34 523.48,811.34 523.01,811.34 522.54,811.34 522.06,811.34 521.59,811.34 521.12,811.34 520.65,811.34 520.17,811.34 519.70,811.34 519.23,811.34 518.75,811.34 518.28,811.34 517.81,811.34 517.34,811.34 516.86,811.34 516.39,811.34 515.92,811.34 515.44,811.34 514.97,811.34 514.50,811.34 514.02,811.34 513.55,811.33 513.08,811.33 512.61,811.32 512.13,811.31 511.66,811.30 511.19,811.28 510.71,811.27 510.24,811.25 509.77,811.23 509.30,811.21 508.82,811.19 508.35,811.16 507.88,811.14 507.40,811.11 506.93,811.08 506.46,811.05 505.98,811.02 505.51,810.99 505.04,810.95 504.57,810.89 504.09,810.81 503.62,810.71 503.15,810.60 502.67,810.47 502.20,810.32 501.73,810.16 501.26,809.99 500.78,809.80 500.31,809.60 499.84,809.39 499.36,809.16 498.89,808.93 498.42,808.69 497.94,808.44 497.47,808.14 497.00,807.80 496.53,807.41 496.05,806.97 496.01,806.93 495.97,806.90 495.93,806.86 495.90,806.82 495.86,806.78 495.82,806.74 495.78,806.70 495.74,806.65 495.70,806.61 495.66,806.57 495.62,806.53 495.58,806.49 495.54,806.44 495.50,806.40 495.46,806.36 495.42,806.31 495.38,806.27 495.34,806.22 495.30,806.18 495.26,806.13 495.23,806.09 495.19,806.04 495.15,806.00 495.11,805.95 495.07,805.90 495.03,805.85 494.99,805.81 494.95,805.76 494.91,805.71 494.87,805.66 494.83,805.61 494.79,805.56 494.75,805.51 494.71,805.46 494.67,805.41 494.63,805.36 494.59,805.31 494.56,805.26 494.52,805.21 494.48,805.15 494.44,805.10 494.40,805.05 494.36,805.00 494.32,804.94 494.28,804.89 494.24,804.83 494.20,804.78 494.16,804.72 494.12,804.67 494.08,804.61 494.04,804.56 494.00,804.50 493.96,804.44 493.92,804.39 493.89,804.33 493.85,804.27 493.81,804.21 493.77,804.15 493.73,804.09 493.69,804.04 493.65,803.98 493.61,803.92 493.57,803.86 493.53,803.79 493.49,803.73 493.45,803.67 493.41,803.61 493.37,803.55 493.33,803.49 493.29,803.42 493.25,803.36 493.22,803.30 493.18,803.23 493.14,803.17 493.10,803.10 493.06,803.04 493.02,802.97 492.98,802.91 492.94,802.84 492.90,802.77 492.86,802.71 492.82,802.64 492.78,802.57 492.74,802.50 492.70,802.44 492.66,802.37 492.62,802.30 492.58,802.23 492.55,802.16 492.51,802.09 492.47,802.02 492.43,801.95 492.39,801.88 492.35,801.81 492.31,801.73 492.27,801.66 492.23,801.59 492.19,801.52 492.15,801.44 492.11,801.37 492.07,801.30 492.03,801.22 491.99,801.15 491.95,801.07 491.91,801.00 491.88,800.92 491.84,800.84 491.80,800.77 491.76,800.69 491.72,800.61 491.68,800.54 491.64,800.46 491.60,800.38 491.56,800.30 491.52,800.22 491.48,800.14 491.44,800.06 491.40,799.98 491.36,799.90 491.32,799.82 491.28,799.74 491.24,799.66 491.21,799.58 491.17,799.49 491.13,799.41 491.09,799.33 491.05,799.24 491.01,799.16 490.97,799.08 490.93,798.99 490.89,798.91 490.85,798.82 490.81,798.73 490.77,798.65 490.73,798.56 490.69,798.47 490.65,798.39 490.61,798.30 490.57,798.21 490.54,798.12 490.50,798.02 490.46,797.92 490.42,797.81 490.38,797.70 490.34,797.59 490.30,797.47 490.26,797.35 490.22,797.23 490.18,797.10 490.14,796.97 490.10,796.84 490.06,796.70 490.02,796.56 489.98,796.42 489.94,796.28 489.90,796.13 489.87,795.98 489.83,795.83 489.79,795.68 489.75,795.52 489.71,795.36 489.67,795.20 489.63,795.04 489.59,794.87 489.55,794.70 489.51,794.54 489.47,794.37 489.43,794.19 489.39,794.02 489.35,793.85 489.31,793.67 489.27,793.49 489.23,793.32 489.20,793.14 489.16,792.96 489.12,792.78 489.08,792.60 489.04,792.41 489.00,792.23 488.96,792.05 488.92,791.86 488.88,791.68 488.84,791.50 488.80,791.31 488.76,791.13 488.72,790.94 488.68,790.76 488.64,790.58 488.60,790.39 488.56,790.21 488.53,790.03 488.49,789.85 488.45,789.67 488.41,789.49 488.37,789.31 488.33,789.13 488.29,788.95 488.25,788.78 488.21,788.60 488.17,788.43 488.13,788.25 488.09,788.07 488.05,787.88 488.01,787.69 487.97,787.48 487.93,787.28 487.89,787.06 487.86,786.85 487.82,786.62 487.78,786.40 487.74,786.17 487.70,785.93 487.66,785.70 487.62,785.45 487.58,785.21 487.54,784.97 487.50,784.72 487.46,784.47 487.42,784.22 487.38,783.97 487.34,783.72 487.30,783.47 487.26,783.22 487.22,782.97 487.19,782.72 487.15,782.47 487.11,782.22 487.07,781.98 487.03,781.74 486.99,781.50 486.95,781.26 486.91,781.02 486.87,780.79 486.83,780.57 486.79,780.35 486.75,780.13 486.71,779.91 486.67,779.71 486.63,779.50 486.59,779.31 486.55,779.12 486.52,778.93 486.48,778.76 486.44,778.59 486.40,778.43 486.36,778.27 486.32,778.13 486.28,777.99 486.24,777.86 486.20,777.75 486.16,777.64 486.12,777.54 486.08,777.45 486.04,777.37 486.00,777.31 485.96,777.25 485.92,777.21 485.88,777.18 485.85,777.16 485.81,777.15 485.77,777.15 485.73,777.16 485.69,777.18 485.65,777.20 485.61,777.22 485.57,777.25 485.53,777.29 485.49,777.33 485.45,777.37 485.41,777.41 485.37,777.46 485.33,777.52 485.29,777.57 485.25,777.63 485.21,777.69 485.18,777.75 485.14,777.81 485.10,777.87 485.06,777.94 485.02,778.00 484.98,778.07 484.94,778.13 484.90,778.20 484.86,778.26 484.82,778.32 484.78,778.39 484.74,778.45 484.70,778.50 484.66,778.56 484.62,778.61 484.58,778.66 484.54,778.71 484.51,778.76 484.47,778.80 484.43,778.83 484.39,778.86 484.35,778.89 484.31,778.91 484.27,778.93 484.23,778.95 484.19,778.97 484.15,778.99 484.11,779.01 484.07,779.02 484.03,779.04 483.99,779.06 483.95,779.08 483.91,779.09 483.87,779.11 483.84,779.13 483.80,779.14 483.76,779.16 483.72,779.17 483.68,779.19 483.64,779.20 483.60,779.22 483.56,779.23 483.52,779.25 483.48,779.26 483.44,779.27 483.40,779.29 483.36,779.30 483.32,779.31 483.28,779.33 483.24,779.34 483.20,779.35 483.17,779.36 483.13,779.37 483.09,779.39 483.05,779.40 483.01,779.41 482.97,779.42 482.93,779.43 482.89,779.44 482.85,779.45 482.81,779.46 482.77,779.47 482.73,779.49 482.69,779.50 482.65,779.51 481.86,779.69 481.08,779.85 480.29,780.03 479.50,780.20 477.53,780.60 475.56,780.95 473.59,781.28 471.62,781.64 469.65,782.03 467.68,782.50 465.71,783.04 463.74,783.64 461.76,784.31 459.79,785.05 457.82,785.88 455.85,786.79 453.88,787.96 451.91,789.58 449.94,791.18 447.97,792.31 446.00,793.02 444.03,793.37 442.06,793.37 440.09,793.37 438.12,793.37 436.15,793.37 434.18,793.37 432.21,793.37 430.24,793.37 428.26,793.37 426.29,793.37 424.32,793.37 422.35,793.37 420.38,793.37 418.41,793.37 416.44,793.37 414.47,793.37 412.50,793.37" fill="#64d413"/>
<path d="M483.74 716.17V734.85" stroke="#f25a1e" stroke-width="1.7"/>
<text transform="translate(55.60,491.90) scale(1.5,1)" font-size="11.4" text-anchor="end" fill="#000" stroke="#000" stroke-width="0.12" font-weight="normal" >1.1</text>
<text transform="translate(55.60,527.15) scale(1.5,1)" font-size="11.4" text-anchor="end" fill="#000" stroke="#000" stroke-width="0.12" font-weight="normal" >1.05</text>
<text transform="translate(55.60,562.40) scale(1.5,1)" font-size="11.4" text-anchor="end" fill="#000" stroke="#000" stroke-width="0.12" font-weight="normal" >1</text>
<text transform="translate(55.60,597.65) scale(1.5,1)" font-size="11.4" text-anchor="end" fill="#000" stroke="#000" stroke-width="0.12" font-weight="normal" >0.95</text>
<text transform="translate(55.60,632.90) scale(1.5,1)" font-size="11.4" text-anchor="end" fill="#000" stroke="#000" stroke-width="0.12" font-weight="normal" >0.9</text>
<text transform="translate(406.80,503.65) scale(1.5,1)" font-size="11.4" text-anchor="end" fill="#000" stroke="#000" stroke-width="0.12" font-weight="normal" >61</text>
<text transform="translate(406.80,533.03) scale(1.5,1)" font-size="11.4" text-anchor="end" fill="#000" stroke="#000" stroke-width="0.12" font-weight="normal" >60.5</text>
<text transform="translate(406.80,562.40) scale(1.5,1)" font-size="11.4" text-anchor="end" fill="#000" stroke="#000" stroke-width="0.12" font-weight="normal" >60</text>
<text transform="translate(406.80,591.77) scale(1.5,1)" font-size="11.4" text-anchor="end" fill="#000" stroke="#000" stroke-width="0.12" font-weight="normal" >59.5</text>
<text transform="translate(406.80,621.15) scale(1.5,1)" font-size="11.4" text-anchor="end" fill="#000" stroke="#000" stroke-width="0.12" font-weight="normal" >59</text>
<text transform="translate(55.60,693.26) scale(1.5,1)" font-size="11.4" text-anchor="end" fill="#000" stroke="#000" stroke-width="0.12" font-weight="normal" >1</text>
<text transform="translate(55.60,726.83) scale(1.5,1)" font-size="11.4" text-anchor="end" fill="#000" stroke="#000" stroke-width="0.12" font-weight="normal" >0.5</text>
<text transform="translate(55.60,760.40) scale(1.5,1)" font-size="11.4" text-anchor="end" fill="#000" stroke="#000" stroke-width="0.12" font-weight="normal" >0</text>
<text transform="translate(55.60,793.97) scale(1.5,1)" font-size="11.4" text-anchor="end" fill="#000" stroke="#000" stroke-width="0.12" font-weight="normal" >-0.5</text>
<text transform="translate(55.60,827.54) scale(1.5,1)" font-size="11.4" text-anchor="end" fill="#000" stroke="#000" stroke-width="0.12" font-weight="normal" >-1</text>
<text transform="translate(406.80,689.90) scale(1.5,1)" font-size="11.4" text-anchor="end" fill="#000" stroke="#000" stroke-width="0.12" font-weight="normal" >0.2</text>
<text transform="translate(406.80,725.15) scale(1.5,1)" font-size="11.4" text-anchor="end" fill="#000" stroke="#000" stroke-width="0.12" font-weight="normal" >0.1</text>
<text transform="translate(406.80,760.40) scale(1.5,1)" font-size="11.4" text-anchor="end" fill="#000" stroke="#000" stroke-width="0.12" font-weight="normal" >0</text>
<text transform="translate(406.80,795.65) scale(1.5,1)" font-size="11.4" text-anchor="end" fill="#000" stroke="#000" stroke-width="0.12" font-weight="normal" >-0.1</text>
<text transform="translate(406.80,830.90) scale(1.5,1)" font-size="11.4" text-anchor="end" fill="#000" stroke="#000" stroke-width="0.12" font-weight="normal" >-0.2</text>
<text transform="translate(93.79,644.80) scale(1.5,1)" font-size="11.4" text-anchor="middle" fill="#000" stroke="#000" stroke-width="0.12" font-weight="normal" >1</text>
<text transform="translate(172.03,644.80) scale(1.5,1)" font-size="11.4" text-anchor="middle" fill="#000" stroke="#000" stroke-width="0.12" font-weight="normal" >2</text>
<text transform="translate(250.26,644.80) scale(1.5,1)" font-size="11.4" text-anchor="middle" fill="#000" stroke="#000" stroke-width="0.12" font-weight="normal" >3</text>
<text transform="translate(328.50,644.80) scale(1.5,1)" font-size="11.4" text-anchor="middle" fill="#000" stroke="#000" stroke-width="0.12" font-weight="normal" >4</text>
<text transform="translate(444.03,644.80) scale(1.5,1)" font-size="11.4" text-anchor="middle" fill="#000" stroke="#000" stroke-width="0.12" font-weight="normal" >1</text>
<text transform="translate(522.85,644.80) scale(1.5,1)" font-size="11.4" text-anchor="middle" fill="#000" stroke="#000" stroke-width="0.12" font-weight="normal" >2</text>
<text transform="translate(601.68,644.80) scale(1.5,1)" font-size="11.4" text-anchor="middle" fill="#000" stroke="#000" stroke-width="0.12" font-weight="normal" >3</text>
<text transform="translate(680.50,644.80) scale(1.5,1)" font-size="11.4" text-anchor="middle" fill="#000" stroke="#000" stroke-width="0.12" font-weight="normal" >4</text>
<text transform="translate(93.79,842.80) scale(1.5,1)" font-size="11.4" text-anchor="middle" fill="#000" stroke="#000" stroke-width="0.12" font-weight="normal" >1</text>
<text transform="translate(172.03,842.80) scale(1.5,1)" font-size="11.4" text-anchor="middle" fill="#000" stroke="#000" stroke-width="0.12" font-weight="normal" >2</text>
<text transform="translate(250.26,842.80) scale(1.5,1)" font-size="11.4" text-anchor="middle" fill="#000" stroke="#000" stroke-width="0.12" font-weight="normal" >3</text>
<text transform="translate(328.50,842.80) scale(1.5,1)" font-size="11.4" text-anchor="middle" fill="#000" stroke="#000" stroke-width="0.12" font-weight="normal" >4</text>
<text transform="translate(444.03,842.80) scale(1.5,1)" font-size="11.4" text-anchor="middle" fill="#000" stroke="#000" stroke-width="0.12" font-weight="normal" >1</text>
<text transform="translate(522.85,842.80) scale(1.5,1)" font-size="11.4" text-anchor="middle" fill="#000" stroke="#000" stroke-width="0.12" font-weight="normal" >2</text>
<text transform="translate(601.68,842.80) scale(1.5,1)" font-size="11.4" text-anchor="middle" fill="#000" stroke="#000" stroke-width="0.12" font-weight="normal" >3</text>
<text transform="translate(680.50,842.80) scale(1.5,1)" font-size="11.4" text-anchor="middle" fill="#000" stroke="#000" stroke-width="0.12" font-weight="normal" >4</text>
<text transform="translate(194.20,662.40) scale(1.517,1)" font-size="12.2" text-anchor="middle" fill="#000" stroke="#000" stroke-width="0.12" font-weight="normal" >Time (sec)</text>
<text transform="translate(545.70,662.40) scale(1.517,1)" font-size="12.2" text-anchor="middle" fill="#000" stroke="#000" stroke-width="0.12" font-weight="normal" >Time (sec)</text>
<text transform="translate(194.20,860.00) scale(1.517,1)" font-size="12.2" text-anchor="middle" fill="#000" stroke="#000" stroke-width="0.12" font-weight="normal" >Time (sec)</text>
<text transform="translate(545.70,860.00) scale(1.517,1)" font-size="12.2" text-anchor="middle" fill="#000" stroke="#000" stroke-width="0.12" font-weight="normal" >Time (sec)</text>
<text transform="translate(194.60,482.30) scale(1.47,1)" font-size="12.8" text-anchor="middle" fill="#000" stroke="#000" stroke-width="0.12" font-weight="normal" >Voltage Magnitude at POI</text>
<text transform="translate(545.20,482.00) scale(1.465,1)" font-size="12.8" text-anchor="middle" fill="#000" stroke="#000" stroke-width="0.12" font-weight="normal" >Frequency at POI</text>
<text transform="translate(194.70,680.00) scale(1.45,1)" font-size="12.8" text-anchor="middle" fill="#000" stroke="#000" stroke-width="0.12" font-weight="normal" >Voltages at POI</text>
<text transform="translate(545.60,679.80) scale(1.464,1)" font-size="12.8" text-anchor="middle" fill="#000" stroke="#000" stroke-width="0.12" font-weight="normal" >BESS Inverter Currents</text>
<text transform="translate(14.40,558.70) scale(1.405,1) rotate(-90)" font-size="12.7" text-anchor="middle" fill="#000" stroke="#000" stroke-width="0.12">V(PU)</text>
<text transform="translate(365.20,558.70) scale(1.405,1) rotate(-90)" font-size="12.7" text-anchor="middle" fill="#000" stroke="#000" stroke-width="0.12">F(Hz)</text>
<text transform="translate(18.50,756.60) scale(1.405,1) rotate(-90)" font-size="12.7" text-anchor="middle" fill="#000" stroke="#000" stroke-width="0.12">V(PU)</text>
<text transform="translate(370.00,756.30) scale(1.405,1) rotate(-90)" font-size="12.7" text-anchor="middle" fill="#000" stroke="#000" stroke-width="0.12">I(PU)</text>
<text transform="translate(340.40,879.20) scale(1.05,1)" font-size="15" text-anchor="middle" fill="#000" stroke="#000" stroke-width="0.12" font-weight="bold" >(b)</text>
<rect x="204.2" y="579.2" width="113.69999999999999" height="41.19999999999993" fill="#fff" stroke="#262626" stroke-width="1"/>
<path d="M210.1 590.2H267.1" stroke="#ff6929" stroke-width="2.2"/>
<text transform="translate(271.10,593.50) scale(1.38,1)" font-size="10.4" text-anchor="start" fill="#000" stroke="#000" stroke-width="0.12" font-weight="normal" >V<tspan dy="3.7" dx="0.4" font-size="9.0">mag</tspan></text>
<path d="M210.1 609.4H267.1" stroke="#ff62cd" stroke-width="1.1" stroke-dasharray="11.4 7.0"/>
<text transform="translate(271.10,612.70) scale(1.38,1)" font-size="10.4" text-anchor="start" fill="#000" stroke="#000" stroke-width="0.12" font-weight="normal" >V<tspan dy="3.7" dx="0.4" font-size="9.0">limits</tspan></text>
<rect x="556.5" y="495.3" width="113.0" height="37.099999999999966" fill="#fff" stroke="#262626" stroke-width="1"/>
<path d="M563 504.5H619.9" stroke="#ff6929" stroke-width="2.2"/>
<text transform="translate(624.30,508.50) scale(1.38,1)" font-size="10.4" text-anchor="start" fill="#000" stroke="#000" stroke-width="0.12" font-weight="normal" >F</text>
<path d="M563 521.2H619.9" stroke="#ff62cd" stroke-width="1.1" stroke-dasharray="11.4 7.0"/>
<text transform="translate(624.30,525.20) scale(1.38,1)" font-size="10.4" text-anchor="start" fill="#000" stroke="#000" stroke-width="0.12" font-weight="normal" >F<tspan dy="3.7" dx="0.4" font-size="9.0">limits</tspan></text></svg></body></html>
